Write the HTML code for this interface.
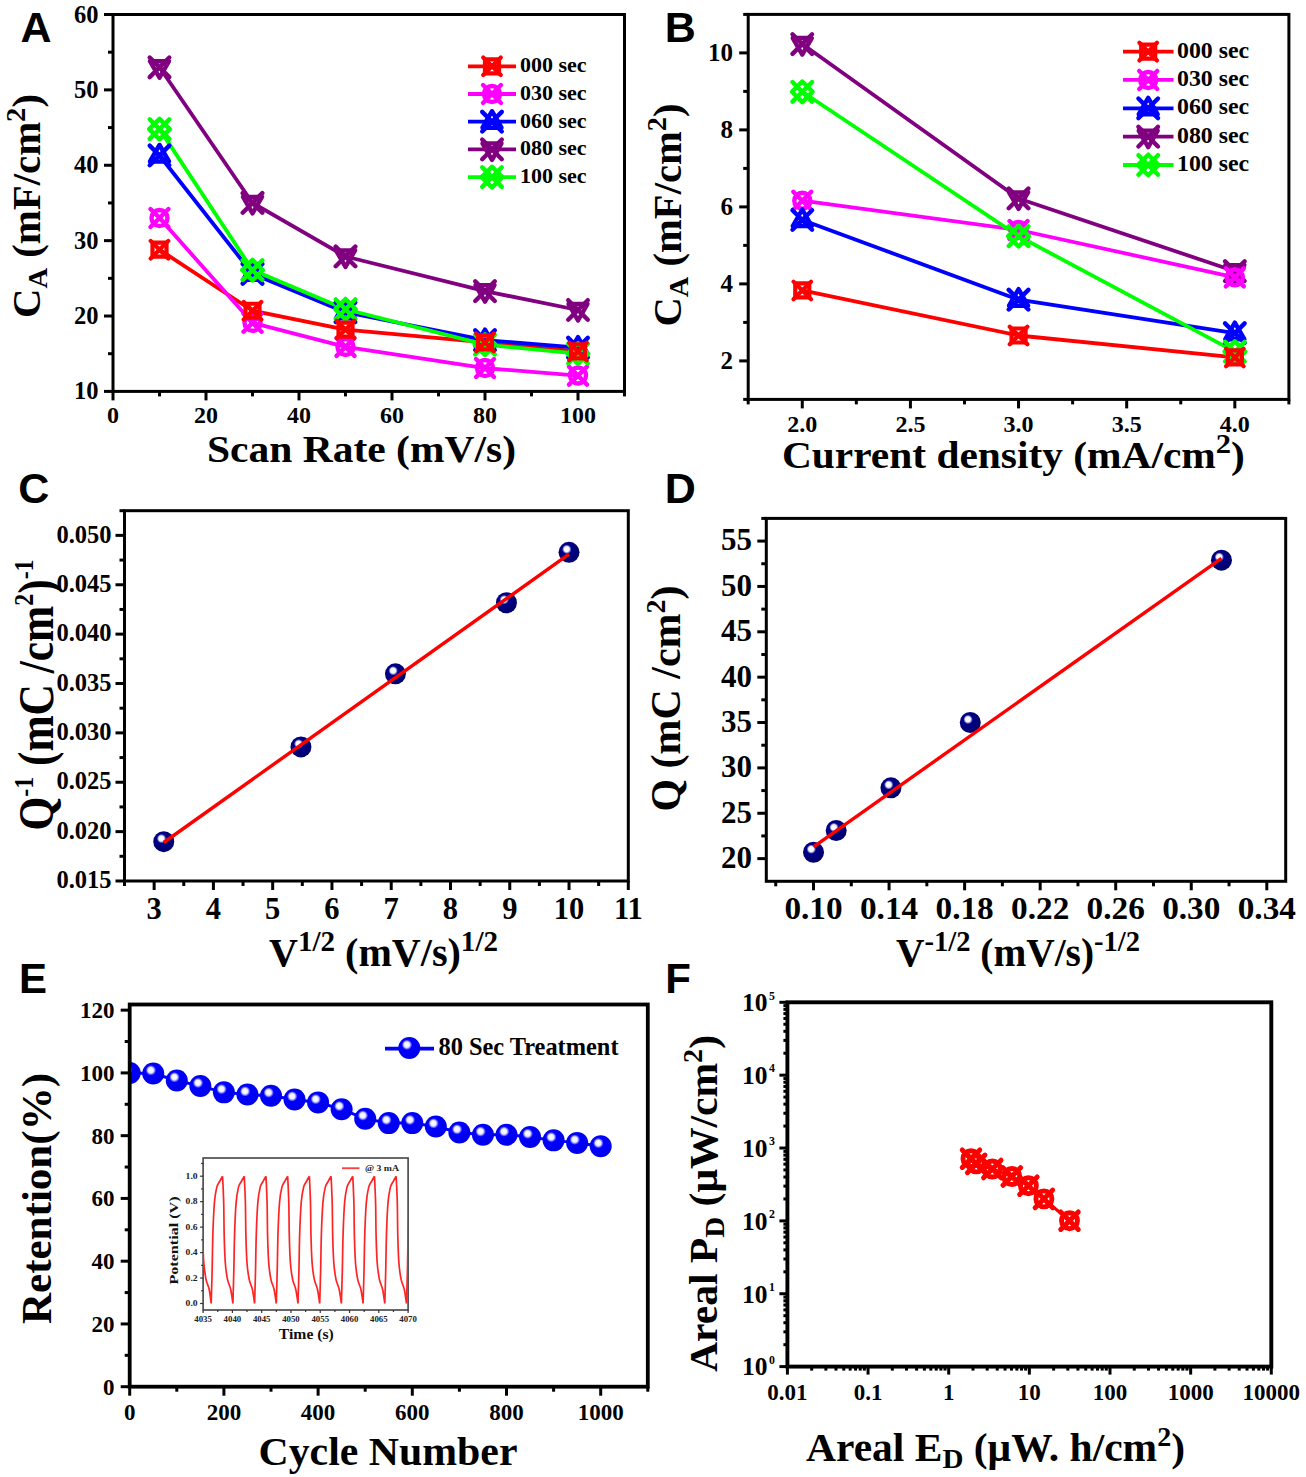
<!DOCTYPE html>
<html><head><meta charset="utf-8"><style>html,body{margin:0;padding:0;background:#fff;width:1306px;height:1477px;overflow:hidden}</style></head>
<body>
<svg width="1306" height="1477" viewBox="0 0 1306 1477" style="display:block">
<defs>
<radialGradient id="gN" cx="0.42" cy="0.38" r="0.62" fx="0.38" fy="0.34">
<stop offset="0" stop-color="#ffffff"/><stop offset="0.2" stop-color="#f4f4ff"/><stop offset="0.36" stop-color="#000088"/><stop offset="1" stop-color="#00006a"/></radialGradient>
<radialGradient id="gB" cx="0.42" cy="0.38" r="0.62" fx="0.38" fy="0.34">
<stop offset="0" stop-color="#ffffff"/><stop offset="0.2" stop-color="#ececff"/><stop offset="0.38" stop-color="#0000ff"/><stop offset="1" stop-color="#0000e8"/></radialGradient>
<clipPath id="clipE"><rect x="129.7" y="1004" width="518" height="383"/></clipPath>
</defs>
<rect width="1306" height="1477" fill="#fff"/>
<text transform="translate(36,42.2)" text-anchor="middle" style="font-family:'Liberation Sans',sans-serif;font-weight:bold;font-size:43px" fill="#000">A</text>
<line x1="113" y1="391.4" x2="104" y2="391.4" stroke="#000" stroke-width="3" stroke-linecap="butt"/>
<line x1="113" y1="316.02" x2="104" y2="316.02" stroke="#000" stroke-width="3" stroke-linecap="butt"/>
<line x1="113" y1="240.64" x2="104" y2="240.64" stroke="#000" stroke-width="3" stroke-linecap="butt"/>
<line x1="113" y1="165.26" x2="104" y2="165.26" stroke="#000" stroke-width="3" stroke-linecap="butt"/>
<line x1="113" y1="89.88" x2="104" y2="89.88" stroke="#000" stroke-width="3" stroke-linecap="butt"/>
<line x1="113" y1="14.5" x2="104" y2="14.5" stroke="#000" stroke-width="3" stroke-linecap="butt"/>
<line x1="113" y1="353.71" x2="108" y2="353.71" stroke="#000" stroke-width="3" stroke-linecap="butt"/>
<line x1="113" y1="278.33" x2="108" y2="278.33" stroke="#000" stroke-width="3" stroke-linecap="butt"/>
<line x1="113" y1="202.95" x2="108" y2="202.95" stroke="#000" stroke-width="3" stroke-linecap="butt"/>
<line x1="113" y1="127.57" x2="108" y2="127.57" stroke="#000" stroke-width="3" stroke-linecap="butt"/>
<line x1="113" y1="52.19" x2="108" y2="52.19" stroke="#000" stroke-width="3" stroke-linecap="butt"/>
<line x1="113" y1="391.4" x2="113" y2="400.4" stroke="#000" stroke-width="3" stroke-linecap="butt"/>
<line x1="206" y1="391.4" x2="206" y2="400.4" stroke="#000" stroke-width="3" stroke-linecap="butt"/>
<line x1="299" y1="391.4" x2="299" y2="400.4" stroke="#000" stroke-width="3" stroke-linecap="butt"/>
<line x1="392" y1="391.4" x2="392" y2="400.4" stroke="#000" stroke-width="3" stroke-linecap="butt"/>
<line x1="485" y1="391.4" x2="485" y2="400.4" stroke="#000" stroke-width="3" stroke-linecap="butt"/>
<line x1="578" y1="391.4" x2="578" y2="400.4" stroke="#000" stroke-width="3" stroke-linecap="butt"/>
<line x1="159.5" y1="391.4" x2="159.5" y2="396.4" stroke="#000" stroke-width="3" stroke-linecap="butt"/>
<line x1="252.5" y1="391.4" x2="252.5" y2="396.4" stroke="#000" stroke-width="3" stroke-linecap="butt"/>
<line x1="345.5" y1="391.4" x2="345.5" y2="396.4" stroke="#000" stroke-width="3" stroke-linecap="butt"/>
<line x1="438.5" y1="391.4" x2="438.5" y2="396.4" stroke="#000" stroke-width="3" stroke-linecap="butt"/>
<line x1="531.5" y1="391.4" x2="531.5" y2="396.4" stroke="#000" stroke-width="3" stroke-linecap="butt"/>
<line x1="624.5" y1="391.4" x2="624.5" y2="396.4" stroke="#000" stroke-width="3" stroke-linecap="butt"/>
<text transform="translate(98.5,399.4)" text-anchor="end" style="font-family:'Liberation Serif',serif;font-weight:bold;font-size:24.5px" fill="#000">10</text>
<text transform="translate(98.5,324.02)" text-anchor="end" style="font-family:'Liberation Serif',serif;font-weight:bold;font-size:24.5px" fill="#000">20</text>
<text transform="translate(98.5,248.64)" text-anchor="end" style="font-family:'Liberation Serif',serif;font-weight:bold;font-size:24.5px" fill="#000">30</text>
<text transform="translate(98.5,173.26)" text-anchor="end" style="font-family:'Liberation Serif',serif;font-weight:bold;font-size:24.5px" fill="#000">40</text>
<text transform="translate(98.5,97.88)" text-anchor="end" style="font-family:'Liberation Serif',serif;font-weight:bold;font-size:24.5px" fill="#000">50</text>
<text transform="translate(98.5,22.5)" text-anchor="end" style="font-family:'Liberation Serif',serif;font-weight:bold;font-size:24.5px" fill="#000">60</text>
<text transform="translate(113,423)" text-anchor="middle" style="font-family:'Liberation Serif',serif;font-weight:bold;font-size:24px" fill="#000">0</text>
<text transform="translate(206,423)" text-anchor="middle" style="font-family:'Liberation Serif',serif;font-weight:bold;font-size:24px" fill="#000">20</text>
<text transform="translate(299,423)" text-anchor="middle" style="font-family:'Liberation Serif',serif;font-weight:bold;font-size:24px" fill="#000">40</text>
<text transform="translate(392,423)" text-anchor="middle" style="font-family:'Liberation Serif',serif;font-weight:bold;font-size:24px" fill="#000">60</text>
<text transform="translate(485,423)" text-anchor="middle" style="font-family:'Liberation Serif',serif;font-weight:bold;font-size:24px" fill="#000">80</text>
<text transform="translate(578,423)" text-anchor="middle" style="font-family:'Liberation Serif',serif;font-weight:bold;font-size:24px" fill="#000">100</text>
<polyline points="159.5,249.69 252.5,310.74 345.5,329.59 485,342.4 578,351.45" fill="none" stroke="#ff0000" stroke-width="3.8" stroke-linejoin="round" stroke-linecap="round"/>
<polyline points="159.5,218.03 252.5,322.8 345.5,346.93 485,368.03 578,375.57" fill="none" stroke="#ff00ff" stroke-width="3.8" stroke-linejoin="round" stroke-linecap="round"/>
<polyline points="159.5,155.46 252.5,273.81 345.5,312.25 485,340.14 578,347.68" fill="none" stroke="#0000ff" stroke-width="3.8" stroke-linejoin="round" stroke-linecap="round"/>
<polyline points="159.5,67.27 252.5,202.95 345.5,256.47 485,291.14 578,309.99" fill="none" stroke="#800080" stroke-width="3.8" stroke-linejoin="round" stroke-linecap="round"/>
<polyline points="159.5,129.08 252.5,270.04 345.5,309.24 485,344.66 578,353.71" fill="none" stroke="#00ff00" stroke-width="3.8" stroke-linejoin="round" stroke-linecap="round"/>
<g stroke="#800080" stroke-width="4.4" fill="none" stroke-linejoin="round" stroke-linecap="round">
<polygon points="159.5,77.77 169,61.27 150,61.27"/>
<path d="M149.7 57.47L169.3 77.07M169.3 57.47L149.7 77.07"/>
</g>
<g stroke="#800080" stroke-width="4.4" fill="none" stroke-linejoin="round" stroke-linecap="round">
<polygon points="252.5,213.45 262,196.95 243,196.95"/>
<path d="M242.7 193.15L262.3 212.75M262.3 193.15L242.7 212.75"/>
</g>
<g stroke="#800080" stroke-width="4.4" fill="none" stroke-linejoin="round" stroke-linecap="round">
<polygon points="345.5,266.97 355,250.47 336,250.47"/>
<path d="M335.7 246.67L355.3 266.27M355.3 246.67L335.7 266.27"/>
</g>
<g stroke="#800080" stroke-width="4.4" fill="none" stroke-linejoin="round" stroke-linecap="round">
<polygon points="485,301.64 494.5,285.14 475.5,285.14"/>
<path d="M475.2 281.34L494.8 300.94M494.8 281.34L475.2 300.94"/>
</g>
<g stroke="#800080" stroke-width="4.4" fill="none" stroke-linejoin="round" stroke-linecap="round">
<polygon points="578,320.49 587.5,303.99 568.5,303.99"/>
<path d="M568.2 300.19L587.8 319.79M587.8 300.19L568.2 319.79"/>
</g>
<g stroke="#ff00ff" stroke-width="4.4" fill="none" stroke-linejoin="round" stroke-linecap="round">
<circle cx="159.5" cy="218.03" r="8"/>
<path d="M150.5 209.03L168.5 227.03M168.5 209.03L150.5 227.03"/>
</g>
<g stroke="#ff00ff" stroke-width="4.4" fill="none" stroke-linejoin="round" stroke-linecap="round">
<circle cx="252.5" cy="322.8" r="8"/>
<path d="M243.5 313.8L261.5 331.8M261.5 313.8L243.5 331.8"/>
</g>
<g stroke="#ff00ff" stroke-width="4.4" fill="none" stroke-linejoin="round" stroke-linecap="round">
<circle cx="345.5" cy="346.93" r="8"/>
<path d="M336.5 337.93L354.5 355.93M354.5 337.93L336.5 355.93"/>
</g>
<g stroke="#ff00ff" stroke-width="4.4" fill="none" stroke-linejoin="round" stroke-linecap="round">
<circle cx="485" cy="368.03" r="8"/>
<path d="M476 359.03L494 377.03M494 359.03L476 377.03"/>
</g>
<g stroke="#ff00ff" stroke-width="4.4" fill="none" stroke-linejoin="round" stroke-linecap="round">
<circle cx="578" cy="375.57" r="8"/>
<path d="M569 366.57L587 384.57M587 366.57L569 384.57"/>
</g>
<g stroke="#0000ff" stroke-width="4.4" fill="none" stroke-linejoin="round" stroke-linecap="round">
<polygon points="159.5,144.96 169,161.46 150,161.46"/>
<path d="M149.7 145.66L169.3 165.26M169.3 145.66L149.7 165.26"/>
</g>
<g stroke="#0000ff" stroke-width="4.4" fill="none" stroke-linejoin="round" stroke-linecap="round">
<polygon points="252.5,263.31 262,279.81 243,279.81"/>
<path d="M242.7 264.01L262.3 283.61M262.3 264.01L242.7 283.61"/>
</g>
<g stroke="#0000ff" stroke-width="4.4" fill="none" stroke-linejoin="round" stroke-linecap="round">
<polygon points="345.5,301.75 355,318.25 336,318.25"/>
<path d="M335.7 302.45L355.3 322.05M355.3 302.45L335.7 322.05"/>
</g>
<g stroke="#0000ff" stroke-width="4.4" fill="none" stroke-linejoin="round" stroke-linecap="round">
<polygon points="485,329.64 494.5,346.14 475.5,346.14"/>
<path d="M475.2 330.34L494.8 349.94M494.8 330.34L475.2 349.94"/>
</g>
<g stroke="#0000ff" stroke-width="4.4" fill="none" stroke-linejoin="round" stroke-linecap="round">
<polygon points="578,337.18 587.5,353.68 568.5,353.68"/>
<path d="M568.2 337.88L587.8 357.48M587.8 337.88L568.2 357.48"/>
</g>
<g stroke="#00ff00" stroke-width="4.4" fill="none" stroke-linejoin="round" stroke-linecap="round">
<path d="M159.5 118.78L169.8 129.08L159.5 139.38L149.2 129.08Z"/>
<path d="M149.7 119.28L169.3 138.88M169.3 119.28L149.7 138.88"/>
</g>
<g stroke="#00ff00" stroke-width="4.4" fill="none" stroke-linejoin="round" stroke-linecap="round">
<path d="M252.5 259.74L262.8 270.04L252.5 280.34L242.2 270.04Z"/>
<path d="M242.7 260.24L262.3 279.84M262.3 260.24L242.7 279.84"/>
</g>
<g stroke="#00ff00" stroke-width="4.4" fill="none" stroke-linejoin="round" stroke-linecap="round">
<path d="M345.5 298.94L355.8 309.24L345.5 319.54L335.2 309.24Z"/>
<path d="M335.7 299.44L355.3 319.04M355.3 299.44L335.7 319.04"/>
</g>
<g stroke="#00ff00" stroke-width="4.4" fill="none" stroke-linejoin="round" stroke-linecap="round">
<path d="M485 334.36L495.3 344.66L485 354.96L474.7 344.66Z"/>
<path d="M475.2 334.86L494.8 354.46M494.8 334.86L475.2 354.46"/>
</g>
<g stroke="#00ff00" stroke-width="4.4" fill="none" stroke-linejoin="round" stroke-linecap="round">
<path d="M578 343.41L588.3 353.71L578 364.01L567.7 353.71Z"/>
<path d="M568.2 343.91L587.8 363.51M587.8 343.91L568.2 363.51"/>
</g>
<g stroke="#ff0000" stroke-width="4.2" fill="none" stroke-linejoin="round" stroke-linecap="round">
<rect x="152.5" y="242.69" width="14" height="14"/>
<path d="M150.7 240.89L168.3 258.49M168.3 240.89L150.7 258.49"/>
</g>
<g stroke="#ff0000" stroke-width="4.2" fill="none" stroke-linejoin="round" stroke-linecap="round">
<rect x="245.5" y="303.74" width="14" height="14"/>
<path d="M243.7 301.94L261.3 319.54M261.3 301.94L243.7 319.54"/>
</g>
<g stroke="#ff0000" stroke-width="4.2" fill="none" stroke-linejoin="round" stroke-linecap="round">
<rect x="338.5" y="322.59" width="14" height="14"/>
<path d="M336.7 320.79L354.3 338.39M354.3 320.79L336.7 338.39"/>
</g>
<g stroke="#ff0000" stroke-width="4.2" fill="none" stroke-linejoin="round" stroke-linecap="round">
<rect x="478" y="335.4" width="14" height="14"/>
<path d="M476.2 333.6L493.8 351.2M493.8 333.6L476.2 351.2"/>
</g>
<g stroke="#ff0000" stroke-width="4.2" fill="none" stroke-linejoin="round" stroke-linecap="round">
<rect x="571" y="344.45" width="14" height="14"/>
<path d="M569.2 342.65L586.8 360.25M586.8 342.65L569.2 360.25"/>
</g>
<rect x="113" y="14.5" width="511.5" height="376.9" fill="none" stroke="#000" stroke-width="3"/>
<line x1="468" y1="66.3" x2="516" y2="66.3" stroke="#ff0000" stroke-width="3.8" stroke-linecap="butt"/>
<g stroke="#ff0000" stroke-width="4.2" fill="none" stroke-linejoin="round" stroke-linecap="round">
<rect x="485" y="59.3" width="14" height="14"/>
<path d="M483.2 57.5L500.8 75.1M500.8 57.5L483.2 75.1"/>
</g>
<text transform="translate(520,72.3)" text-anchor="start" style="font-family:'Liberation Serif',serif;font-weight:bold;font-size:22px" fill="#000">000 sec</text>
<line x1="468" y1="94" x2="516" y2="94" stroke="#ff00ff" stroke-width="3.8" stroke-linecap="butt"/>
<g stroke="#ff00ff" stroke-width="4.4" fill="none" stroke-linejoin="round" stroke-linecap="round">
<circle cx="492" cy="94" r="8"/>
<path d="M483 85L501 103M501 85L483 103"/>
</g>
<text transform="translate(520,100)" text-anchor="start" style="font-family:'Liberation Serif',serif;font-weight:bold;font-size:22px" fill="#000">030 sec</text>
<line x1="468" y1="121.7" x2="516" y2="121.7" stroke="#0000ff" stroke-width="3.8" stroke-linecap="butt"/>
<g stroke="#0000ff" stroke-width="4.4" fill="none" stroke-linejoin="round" stroke-linecap="round">
<polygon points="492,111.2 501.5,127.7 482.5,127.7"/>
<path d="M482.2 111.9L501.8 131.5M501.8 111.9L482.2 131.5"/>
</g>
<text transform="translate(520,127.7)" text-anchor="start" style="font-family:'Liberation Serif',serif;font-weight:bold;font-size:22px" fill="#000">060 sec</text>
<line x1="468" y1="149.4" x2="516" y2="149.4" stroke="#800080" stroke-width="3.8" stroke-linecap="butt"/>
<g stroke="#800080" stroke-width="4.4" fill="none" stroke-linejoin="round" stroke-linecap="round">
<polygon points="492,159.9 501.5,143.4 482.5,143.4"/>
<path d="M482.2 139.6L501.8 159.2M501.8 139.6L482.2 159.2"/>
</g>
<text transform="translate(520,155.4)" text-anchor="start" style="font-family:'Liberation Serif',serif;font-weight:bold;font-size:22px" fill="#000">080 sec</text>
<line x1="468" y1="177.1" x2="516" y2="177.1" stroke="#00ff00" stroke-width="3.8" stroke-linecap="butt"/>
<g stroke="#00ff00" stroke-width="4.4" fill="none" stroke-linejoin="round" stroke-linecap="round">
<path d="M492 166.8L502.3 177.1L492 187.4L481.7 177.1Z"/>
<path d="M482.2 167.3L501.8 186.9M501.8 167.3L482.2 186.9"/>
</g>
<text transform="translate(520,183.1)" text-anchor="start" style="font-family:'Liberation Serif',serif;font-weight:bold;font-size:22px" fill="#000">100 sec</text>
<text transform="translate(361.5,462)" text-anchor="middle" style="font-family:'Liberation Serif',serif;font-weight:bold;font-size:38px" fill="#000" textLength="309" lengthAdjust="spacingAndGlyphs">Scan Rate (mV/s)</text>
<text transform="translate(40,206) rotate(-90)" text-anchor="middle" style="font-family:'Liberation Serif',serif;font-weight:bold;font-size:40px" fill="#000" textLength="224" lengthAdjust="spacingAndGlyphs">C<tspan baseline-shift="-25%" style="font-size:28px">A</tspan> (mF/cm<tspan baseline-shift="52%" style="font-size:28px">2</tspan>)</text>
<text transform="translate(680.3,42.2)" text-anchor="middle" style="font-family:'Liberation Sans',sans-serif;font-weight:bold;font-size:43px" fill="#000">B</text>
<line x1="748.2" y1="360.9" x2="739.2" y2="360.9" stroke="#000" stroke-width="3" stroke-linecap="butt"/>
<line x1="748.2" y1="283.9" x2="739.2" y2="283.9" stroke="#000" stroke-width="3" stroke-linecap="butt"/>
<line x1="748.2" y1="206.9" x2="739.2" y2="206.9" stroke="#000" stroke-width="3" stroke-linecap="butt"/>
<line x1="748.2" y1="129.9" x2="739.2" y2="129.9" stroke="#000" stroke-width="3" stroke-linecap="butt"/>
<line x1="748.2" y1="52.9" x2="739.2" y2="52.9" stroke="#000" stroke-width="3" stroke-linecap="butt"/>
<line x1="748.2" y1="399.4" x2="743.2" y2="399.4" stroke="#000" stroke-width="3" stroke-linecap="butt"/>
<line x1="748.2" y1="322.4" x2="743.2" y2="322.4" stroke="#000" stroke-width="3" stroke-linecap="butt"/>
<line x1="748.2" y1="245.4" x2="743.2" y2="245.4" stroke="#000" stroke-width="3" stroke-linecap="butt"/>
<line x1="748.2" y1="168.4" x2="743.2" y2="168.4" stroke="#000" stroke-width="3" stroke-linecap="butt"/>
<line x1="748.2" y1="91.4" x2="743.2" y2="91.4" stroke="#000" stroke-width="3" stroke-linecap="butt"/>
<line x1="748.2" y1="14.4" x2="743.2" y2="14.4" stroke="#000" stroke-width="3" stroke-linecap="butt"/>
<line x1="802.27" y1="399.4" x2="802.27" y2="408.4" stroke="#000" stroke-width="3" stroke-linecap="butt"/>
<line x1="910.41" y1="399.4" x2="910.41" y2="408.4" stroke="#000" stroke-width="3" stroke-linecap="butt"/>
<line x1="1018.55" y1="399.4" x2="1018.55" y2="408.4" stroke="#000" stroke-width="3" stroke-linecap="butt"/>
<line x1="1126.69" y1="399.4" x2="1126.69" y2="408.4" stroke="#000" stroke-width="3" stroke-linecap="butt"/>
<line x1="1234.83" y1="399.4" x2="1234.83" y2="408.4" stroke="#000" stroke-width="3" stroke-linecap="butt"/>
<line x1="748.2" y1="399.4" x2="748.2" y2="404.4" stroke="#000" stroke-width="3" stroke-linecap="butt"/>
<line x1="856.34" y1="399.4" x2="856.34" y2="404.4" stroke="#000" stroke-width="3" stroke-linecap="butt"/>
<line x1="964.48" y1="399.4" x2="964.48" y2="404.4" stroke="#000" stroke-width="3" stroke-linecap="butt"/>
<line x1="1072.62" y1="399.4" x2="1072.62" y2="404.4" stroke="#000" stroke-width="3" stroke-linecap="butt"/>
<line x1="1180.76" y1="399.4" x2="1180.76" y2="404.4" stroke="#000" stroke-width="3" stroke-linecap="butt"/>
<line x1="1288.9" y1="399.4" x2="1288.9" y2="404.4" stroke="#000" stroke-width="3" stroke-linecap="butt"/>
<text transform="translate(733,368.7)" text-anchor="end" style="font-family:'Liberation Serif',serif;font-weight:bold;font-size:25px" fill="#000">2</text>
<text transform="translate(733,291.7)" text-anchor="end" style="font-family:'Liberation Serif',serif;font-weight:bold;font-size:25px" fill="#000">4</text>
<text transform="translate(733,214.7)" text-anchor="end" style="font-family:'Liberation Serif',serif;font-weight:bold;font-size:25px" fill="#000">6</text>
<text transform="translate(733,137.7)" text-anchor="end" style="font-family:'Liberation Serif',serif;font-weight:bold;font-size:25px" fill="#000">8</text>
<text transform="translate(733,60.7)" text-anchor="end" style="font-family:'Liberation Serif',serif;font-weight:bold;font-size:25px" fill="#000">10</text>
<text transform="translate(802.27,432)" text-anchor="middle" style="font-family:'Liberation Serif',serif;font-weight:bold;font-size:24px" fill="#000">2.0</text>
<text transform="translate(910.41,432)" text-anchor="middle" style="font-family:'Liberation Serif',serif;font-weight:bold;font-size:24px" fill="#000">2.5</text>
<text transform="translate(1018.55,432)" text-anchor="middle" style="font-family:'Liberation Serif',serif;font-weight:bold;font-size:24px" fill="#000">3.0</text>
<text transform="translate(1126.69,432)" text-anchor="middle" style="font-family:'Liberation Serif',serif;font-weight:bold;font-size:24px" fill="#000">3.5</text>
<text transform="translate(1234.83,432)" text-anchor="middle" style="font-family:'Liberation Serif',serif;font-weight:bold;font-size:24px" fill="#000">4.0</text>
<polyline points="802.27,290.44 1018.55,335.49 1234.83,357.44" fill="none" stroke="#ff0000" stroke-width="3.8" stroke-linejoin="round" stroke-linecap="round"/>
<polyline points="802.27,200.74 1018.55,230 1234.83,277.35" fill="none" stroke="#ff00ff" stroke-width="3.8" stroke-linejoin="round" stroke-linecap="round"/>
<polyline points="802.27,219.99 1018.55,299.68 1234.83,333.18" fill="none" stroke="#0000ff" stroke-width="3.8" stroke-linejoin="round" stroke-linecap="round"/>
<polyline points="802.27,44.04 1018.55,198.43 1234.83,271.19" fill="none" stroke="#800080" stroke-width="3.8" stroke-linejoin="round" stroke-linecap="round"/>
<polyline points="802.27,91.78 1018.55,236.16 1234.83,351.66" fill="none" stroke="#00ff00" stroke-width="3.8" stroke-linejoin="round" stroke-linecap="round"/>
<g stroke="#800080" stroke-width="4.4" fill="none" stroke-linejoin="round" stroke-linecap="round">
<polygon points="802.27,54.54 811.77,38.04 792.77,38.04"/>
<path d="M792.47 34.24L812.07 53.84M812.07 34.24L792.47 53.84"/>
</g>
<g stroke="#800080" stroke-width="4.4" fill="none" stroke-linejoin="round" stroke-linecap="round">
<polygon points="1018.55,208.93 1028.05,192.43 1009.05,192.43"/>
<path d="M1008.75 188.63L1028.35 208.23M1028.35 188.63L1008.75 208.23"/>
</g>
<g stroke="#800080" stroke-width="4.4" fill="none" stroke-linejoin="round" stroke-linecap="round">
<polygon points="1234.83,281.69 1244.33,265.19 1225.33,265.19"/>
<path d="M1225.03 261.39L1244.63 280.99M1244.63 261.39L1225.03 280.99"/>
</g>
<g stroke="#ff00ff" stroke-width="4.4" fill="none" stroke-linejoin="round" stroke-linecap="round">
<circle cx="802.27" cy="200.74" r="8"/>
<path d="M793.27 191.74L811.27 209.74M811.27 191.74L793.27 209.74"/>
</g>
<g stroke="#ff00ff" stroke-width="4.4" fill="none" stroke-linejoin="round" stroke-linecap="round">
<circle cx="1018.55" cy="230" r="8"/>
<path d="M1009.55 221L1027.55 239M1027.55 221L1009.55 239"/>
</g>
<g stroke="#ff00ff" stroke-width="4.4" fill="none" stroke-linejoin="round" stroke-linecap="round">
<circle cx="1234.83" cy="277.35" r="8"/>
<path d="M1225.83 268.35L1243.83 286.35M1243.83 268.35L1225.83 286.35"/>
</g>
<g stroke="#0000ff" stroke-width="4.4" fill="none" stroke-linejoin="round" stroke-linecap="round">
<polygon points="802.27,209.49 811.77,225.99 792.77,225.99"/>
<path d="M792.47 210.19L812.07 229.79M812.07 210.19L792.47 229.79"/>
</g>
<g stroke="#0000ff" stroke-width="4.4" fill="none" stroke-linejoin="round" stroke-linecap="round">
<polygon points="1018.55,289.18 1028.05,305.68 1009.05,305.68"/>
<path d="M1008.75 289.88L1028.35 309.48M1028.35 289.88L1008.75 309.48"/>
</g>
<g stroke="#0000ff" stroke-width="4.4" fill="none" stroke-linejoin="round" stroke-linecap="round">
<polygon points="1234.83,322.68 1244.33,339.18 1225.33,339.18"/>
<path d="M1225.03 323.38L1244.63 342.98M1244.63 323.38L1225.03 342.98"/>
</g>
<g stroke="#00ff00" stroke-width="4.4" fill="none" stroke-linejoin="round" stroke-linecap="round">
<path d="M802.27 81.48L812.57 91.78L802.27 102.08L791.97 91.78Z"/>
<path d="M792.47 81.98L812.07 101.58M812.07 81.98L792.47 101.58"/>
</g>
<g stroke="#00ff00" stroke-width="4.4" fill="none" stroke-linejoin="round" stroke-linecap="round">
<path d="M1018.55 225.86L1028.85 236.16L1018.55 246.46L1008.25 236.16Z"/>
<path d="M1008.75 226.36L1028.35 245.96M1028.35 226.36L1008.75 245.96"/>
</g>
<g stroke="#00ff00" stroke-width="4.4" fill="none" stroke-linejoin="round" stroke-linecap="round">
<path d="M1234.83 341.36L1245.13 351.66L1234.83 361.96L1224.53 351.66Z"/>
<path d="M1225.03 341.86L1244.63 361.46M1244.63 341.86L1225.03 361.46"/>
</g>
<g stroke="#ff0000" stroke-width="4.2" fill="none" stroke-linejoin="round" stroke-linecap="round">
<rect x="795.27" y="283.44" width="14" height="14"/>
<path d="M793.47 281.64L811.07 299.24M811.07 281.64L793.47 299.24"/>
</g>
<g stroke="#ff0000" stroke-width="4.2" fill="none" stroke-linejoin="round" stroke-linecap="round">
<rect x="1011.55" y="328.49" width="14" height="14"/>
<path d="M1009.75 326.69L1027.35 344.29M1027.35 326.69L1009.75 344.29"/>
</g>
<g stroke="#ff0000" stroke-width="4.2" fill="none" stroke-linejoin="round" stroke-linecap="round">
<rect x="1227.83" y="350.44" width="14" height="14"/>
<path d="M1226.03 348.63L1243.63 366.24M1243.63 348.63L1226.03 366.24"/>
</g>
<rect x="748.2" y="14.4" width="540.7" height="385" fill="none" stroke="#000" stroke-width="3"/>
<line x1="1123" y1="51.6" x2="1173.5" y2="51.6" stroke="#ff0000" stroke-width="3.8" stroke-linecap="butt"/>
<g stroke="#ff0000" stroke-width="4.2" fill="none" stroke-linejoin="round" stroke-linecap="round">
<rect x="1141.2" y="44.6" width="14" height="14"/>
<path d="M1139.4 42.8L1157 60.4M1157 42.8L1139.4 60.4"/>
</g>
<text transform="translate(1177,57.6) scale(1.06,1)" text-anchor="start" style="font-family:'Liberation Serif',serif;font-weight:bold;font-size:22.5px" fill="#000">000 sec</text>
<line x1="1123" y1="79.95" x2="1173.5" y2="79.95" stroke="#ff00ff" stroke-width="3.8" stroke-linecap="butt"/>
<g stroke="#ff00ff" stroke-width="4.4" fill="none" stroke-linejoin="round" stroke-linecap="round">
<circle cx="1148.2" cy="79.95" r="8"/>
<path d="M1139.2 70.95L1157.2 88.95M1157.2 70.95L1139.2 88.95"/>
</g>
<text transform="translate(1177,85.95) scale(1.06,1)" text-anchor="start" style="font-family:'Liberation Serif',serif;font-weight:bold;font-size:22.5px" fill="#000">030 sec</text>
<line x1="1123" y1="108.3" x2="1173.5" y2="108.3" stroke="#0000ff" stroke-width="3.8" stroke-linecap="butt"/>
<g stroke="#0000ff" stroke-width="4.4" fill="none" stroke-linejoin="round" stroke-linecap="round">
<polygon points="1148.2,97.8 1157.7,114.3 1138.7,114.3"/>
<path d="M1138.4 98.5L1158 118.1M1158 98.5L1138.4 118.1"/>
</g>
<text transform="translate(1177,114.3) scale(1.06,1)" text-anchor="start" style="font-family:'Liberation Serif',serif;font-weight:bold;font-size:22.5px" fill="#000">060 sec</text>
<line x1="1123" y1="136.65" x2="1173.5" y2="136.65" stroke="#800080" stroke-width="3.8" stroke-linecap="butt"/>
<g stroke="#800080" stroke-width="4.4" fill="none" stroke-linejoin="round" stroke-linecap="round">
<polygon points="1148.2,147.15 1157.7,130.65 1138.7,130.65"/>
<path d="M1138.4 126.85L1158 146.45M1158 126.85L1138.4 146.45"/>
</g>
<text transform="translate(1177,142.65) scale(1.06,1)" text-anchor="start" style="font-family:'Liberation Serif',serif;font-weight:bold;font-size:22.5px" fill="#000">080 sec</text>
<line x1="1123" y1="165" x2="1173.5" y2="165" stroke="#00ff00" stroke-width="3.8" stroke-linecap="butt"/>
<g stroke="#00ff00" stroke-width="4.4" fill="none" stroke-linejoin="round" stroke-linecap="round">
<path d="M1148.2 154.7L1158.5 165L1148.2 175.3L1137.9 165Z"/>
<path d="M1138.4 155.2L1158 174.8M1158 155.2L1138.4 174.8"/>
</g>
<text transform="translate(1177,171) scale(1.06,1)" text-anchor="start" style="font-family:'Liberation Serif',serif;font-weight:bold;font-size:22.5px" fill="#000">100 sec</text>
<text transform="translate(1013.4,468)" text-anchor="middle" style="font-family:'Liberation Serif',serif;font-weight:bold;font-size:38px" fill="#000" textLength="463" lengthAdjust="spacingAndGlyphs">Current density (mA/cm<tspan baseline-shift="52%" style="font-size:28px">2</tspan>)</text>
<text transform="translate(681,215) rotate(-90)" text-anchor="middle" style="font-family:'Liberation Serif',serif;font-weight:bold;font-size:40px" fill="#000" textLength="223" lengthAdjust="spacingAndGlyphs">C<tspan baseline-shift="-25%" style="font-size:28px">A</tspan> (mF/cm<tspan baseline-shift="52%" style="font-size:28px">2</tspan>)</text>
<text transform="translate(33.8,502.5)" text-anchor="middle" style="font-family:'Liberation Sans',sans-serif;font-weight:bold;font-size:43px" fill="#000">C</text>
<line x1="124.5" y1="881" x2="115.5" y2="881" stroke="#000" stroke-width="3" stroke-linecap="butt"/>
<line x1="124.5" y1="831.63" x2="115.5" y2="831.63" stroke="#000" stroke-width="3" stroke-linecap="butt"/>
<line x1="124.5" y1="782.25" x2="115.5" y2="782.25" stroke="#000" stroke-width="3" stroke-linecap="butt"/>
<line x1="124.5" y1="732.88" x2="115.5" y2="732.88" stroke="#000" stroke-width="3" stroke-linecap="butt"/>
<line x1="124.5" y1="683.51" x2="115.5" y2="683.51" stroke="#000" stroke-width="3" stroke-linecap="butt"/>
<line x1="124.5" y1="634.13" x2="115.5" y2="634.13" stroke="#000" stroke-width="3" stroke-linecap="butt"/>
<line x1="124.5" y1="584.76" x2="115.5" y2="584.76" stroke="#000" stroke-width="3" stroke-linecap="butt"/>
<line x1="124.5" y1="535.39" x2="115.5" y2="535.39" stroke="#000" stroke-width="3" stroke-linecap="butt"/>
<line x1="124.5" y1="856.31" x2="119.5" y2="856.31" stroke="#000" stroke-width="3" stroke-linecap="butt"/>
<line x1="124.5" y1="806.94" x2="119.5" y2="806.94" stroke="#000" stroke-width="3" stroke-linecap="butt"/>
<line x1="124.5" y1="757.57" x2="119.5" y2="757.57" stroke="#000" stroke-width="3" stroke-linecap="butt"/>
<line x1="124.5" y1="708.19" x2="119.5" y2="708.19" stroke="#000" stroke-width="3" stroke-linecap="butt"/>
<line x1="124.5" y1="658.82" x2="119.5" y2="658.82" stroke="#000" stroke-width="3" stroke-linecap="butt"/>
<line x1="124.5" y1="609.45" x2="119.5" y2="609.45" stroke="#000" stroke-width="3" stroke-linecap="butt"/>
<line x1="124.5" y1="560.07" x2="119.5" y2="560.07" stroke="#000" stroke-width="3" stroke-linecap="butt"/>
<line x1="124.5" y1="510.7" x2="119.5" y2="510.7" stroke="#000" stroke-width="3" stroke-linecap="butt"/>
<line x1="154.14" y1="881" x2="154.14" y2="890" stroke="#000" stroke-width="3" stroke-linecap="butt"/>
<line x1="213.41" y1="881" x2="213.41" y2="890" stroke="#000" stroke-width="3" stroke-linecap="butt"/>
<line x1="272.68" y1="881" x2="272.68" y2="890" stroke="#000" stroke-width="3" stroke-linecap="butt"/>
<line x1="331.95" y1="881" x2="331.95" y2="890" stroke="#000" stroke-width="3" stroke-linecap="butt"/>
<line x1="391.22" y1="881" x2="391.22" y2="890" stroke="#000" stroke-width="3" stroke-linecap="butt"/>
<line x1="450.49" y1="881" x2="450.49" y2="890" stroke="#000" stroke-width="3" stroke-linecap="butt"/>
<line x1="509.76" y1="881" x2="509.76" y2="890" stroke="#000" stroke-width="3" stroke-linecap="butt"/>
<line x1="569.03" y1="881" x2="569.03" y2="890" stroke="#000" stroke-width="3" stroke-linecap="butt"/>
<line x1="628.3" y1="881" x2="628.3" y2="890" stroke="#000" stroke-width="3" stroke-linecap="butt"/>
<line x1="124.5" y1="881" x2="124.5" y2="886" stroke="#000" stroke-width="3" stroke-linecap="butt"/>
<line x1="183.77" y1="881" x2="183.77" y2="886" stroke="#000" stroke-width="3" stroke-linecap="butt"/>
<line x1="243.04" y1="881" x2="243.04" y2="886" stroke="#000" stroke-width="3" stroke-linecap="butt"/>
<line x1="302.31" y1="881" x2="302.31" y2="886" stroke="#000" stroke-width="3" stroke-linecap="butt"/>
<line x1="361.58" y1="881" x2="361.58" y2="886" stroke="#000" stroke-width="3" stroke-linecap="butt"/>
<line x1="420.85" y1="881" x2="420.85" y2="886" stroke="#000" stroke-width="3" stroke-linecap="butt"/>
<line x1="480.12" y1="881" x2="480.12" y2="886" stroke="#000" stroke-width="3" stroke-linecap="butt"/>
<line x1="539.39" y1="881" x2="539.39" y2="886" stroke="#000" stroke-width="3" stroke-linecap="butt"/>
<line x1="598.66" y1="881" x2="598.66" y2="886" stroke="#000" stroke-width="3" stroke-linecap="butt"/>
<text transform="translate(111.5,888.2)" text-anchor="end" style="font-family:'Liberation Serif',serif;font-weight:bold;font-size:24.5px" fill="#000">0.015</text>
<text transform="translate(111.5,838.83)" text-anchor="end" style="font-family:'Liberation Serif',serif;font-weight:bold;font-size:24.5px" fill="#000">0.020</text>
<text transform="translate(111.5,789.45)" text-anchor="end" style="font-family:'Liberation Serif',serif;font-weight:bold;font-size:24.5px" fill="#000">0.025</text>
<text transform="translate(111.5,740.08)" text-anchor="end" style="font-family:'Liberation Serif',serif;font-weight:bold;font-size:24.5px" fill="#000">0.030</text>
<text transform="translate(111.5,690.71)" text-anchor="end" style="font-family:'Liberation Serif',serif;font-weight:bold;font-size:24.5px" fill="#000">0.035</text>
<text transform="translate(111.5,641.33)" text-anchor="end" style="font-family:'Liberation Serif',serif;font-weight:bold;font-size:24.5px" fill="#000">0.040</text>
<text transform="translate(111.5,591.96)" text-anchor="end" style="font-family:'Liberation Serif',serif;font-weight:bold;font-size:24.5px" fill="#000">0.045</text>
<text transform="translate(111.5,542.59)" text-anchor="end" style="font-family:'Liberation Serif',serif;font-weight:bold;font-size:24.5px" fill="#000">0.050</text>
<text transform="translate(154.14,919.2)" text-anchor="middle" style="font-family:'Liberation Serif',serif;font-weight:bold;font-size:30.5px" fill="#000">3</text>
<text transform="translate(213.41,919.2)" text-anchor="middle" style="font-family:'Liberation Serif',serif;font-weight:bold;font-size:30.5px" fill="#000">4</text>
<text transform="translate(272.68,919.2)" text-anchor="middle" style="font-family:'Liberation Serif',serif;font-weight:bold;font-size:30.5px" fill="#000">5</text>
<text transform="translate(331.95,919.2)" text-anchor="middle" style="font-family:'Liberation Serif',serif;font-weight:bold;font-size:30.5px" fill="#000">6</text>
<text transform="translate(391.22,919.2)" text-anchor="middle" style="font-family:'Liberation Serif',serif;font-weight:bold;font-size:30.5px" fill="#000">7</text>
<text transform="translate(450.49,919.2)" text-anchor="middle" style="font-family:'Liberation Serif',serif;font-weight:bold;font-size:30.5px" fill="#000">8</text>
<text transform="translate(509.76,919.2)" text-anchor="middle" style="font-family:'Liberation Serif',serif;font-weight:bold;font-size:30.5px" fill="#000">9</text>
<text transform="translate(569.03,919.2)" text-anchor="middle" style="font-family:'Liberation Serif',serif;font-weight:bold;font-size:30.5px" fill="#000">10</text>
<text transform="translate(628.3,919.2)" text-anchor="middle" style="font-family:'Liberation Serif',serif;font-weight:bold;font-size:30.5px" fill="#000">11</text>
<circle cx="163.74" cy="841.69" r="10.5" fill="url(#gN)"/>
<circle cx="300.95" cy="746.89" r="10.5" fill="url(#gN)"/>
<circle cx="395.43" cy="673.82" r="10.5" fill="url(#gN)"/>
<circle cx="506.44" cy="602.72" r="10.5" fill="url(#gN)"/>
<circle cx="569.03" cy="552.36" r="10.5" fill="url(#gN)"/>
<line x1="163.74" y1="842.49" x2="569.03" y2="554.15" stroke="#ff0000" stroke-width="3.4" stroke-linecap="butt"/>
<rect x="124.5" y="510.7" width="503.8" height="370.3" fill="none" stroke="#000" stroke-width="3"/>
<text transform="translate(383.5,966)" text-anchor="middle" style="font-family:'Liberation Serif',serif;font-weight:bold;font-size:40px" fill="#000" textLength="229" lengthAdjust="spacingAndGlyphs">V<tspan baseline-shift="52%" style="font-size:29px">1/2</tspan> (mV/s)<tspan baseline-shift="52%" style="font-size:29px">1/2</tspan></text>
<text transform="translate(53,695) rotate(-90)" text-anchor="middle" style="font-family:'Liberation Serif',serif;font-weight:bold;font-size:51px" fill="#000" textLength="271" lengthAdjust="spacingAndGlyphs">Q<tspan baseline-shift="72%" style="font-size:28px">-1</tspan> (mC /cm<tspan baseline-shift="70%" style="font-size:28px">2</tspan>)<tspan baseline-shift="72%" style="font-size:28px">-1</tspan></text>
<text transform="translate(680.2,502.5)" text-anchor="middle" style="font-family:'Liberation Sans',sans-serif;font-weight:bold;font-size:43px" fill="#000">D</text>
<line x1="766.3" y1="858.62" x2="757.3" y2="858.62" stroke="#000" stroke-width="3" stroke-linecap="butt"/>
<line x1="766.3" y1="813.26" x2="757.3" y2="813.26" stroke="#000" stroke-width="3" stroke-linecap="butt"/>
<line x1="766.3" y1="767.89" x2="757.3" y2="767.89" stroke="#000" stroke-width="3" stroke-linecap="butt"/>
<line x1="766.3" y1="722.53" x2="757.3" y2="722.53" stroke="#000" stroke-width="3" stroke-linecap="butt"/>
<line x1="766.3" y1="677.17" x2="757.3" y2="677.17" stroke="#000" stroke-width="3" stroke-linecap="butt"/>
<line x1="766.3" y1="631.81" x2="757.3" y2="631.81" stroke="#000" stroke-width="3" stroke-linecap="butt"/>
<line x1="766.3" y1="586.44" x2="757.3" y2="586.44" stroke="#000" stroke-width="3" stroke-linecap="butt"/>
<line x1="766.3" y1="541.08" x2="757.3" y2="541.08" stroke="#000" stroke-width="3" stroke-linecap="butt"/>
<line x1="766.3" y1="835.94" x2="761.3" y2="835.94" stroke="#000" stroke-width="3" stroke-linecap="butt"/>
<line x1="766.3" y1="790.57" x2="761.3" y2="790.57" stroke="#000" stroke-width="3" stroke-linecap="butt"/>
<line x1="766.3" y1="745.21" x2="761.3" y2="745.21" stroke="#000" stroke-width="3" stroke-linecap="butt"/>
<line x1="766.3" y1="699.85" x2="761.3" y2="699.85" stroke="#000" stroke-width="3" stroke-linecap="butt"/>
<line x1="766.3" y1="654.49" x2="761.3" y2="654.49" stroke="#000" stroke-width="3" stroke-linecap="butt"/>
<line x1="766.3" y1="609.12" x2="761.3" y2="609.12" stroke="#000" stroke-width="3" stroke-linecap="butt"/>
<line x1="766.3" y1="563.76" x2="761.3" y2="563.76" stroke="#000" stroke-width="3" stroke-linecap="butt"/>
<line x1="766.3" y1="518.4" x2="761.3" y2="518.4" stroke="#000" stroke-width="3" stroke-linecap="butt"/>
<line x1="813.52" y1="881.3" x2="813.52" y2="890.3" stroke="#000" stroke-width="3" stroke-linecap="butt"/>
<line x1="889.07" y1="881.3" x2="889.07" y2="890.3" stroke="#000" stroke-width="3" stroke-linecap="butt"/>
<line x1="964.62" y1="881.3" x2="964.62" y2="890.3" stroke="#000" stroke-width="3" stroke-linecap="butt"/>
<line x1="1040.17" y1="881.3" x2="1040.17" y2="890.3" stroke="#000" stroke-width="3" stroke-linecap="butt"/>
<line x1="1115.71" y1="881.3" x2="1115.71" y2="890.3" stroke="#000" stroke-width="3" stroke-linecap="butt"/>
<line x1="1191.26" y1="881.3" x2="1191.26" y2="890.3" stroke="#000" stroke-width="3" stroke-linecap="butt"/>
<line x1="1266.81" y1="881.3" x2="1266.81" y2="890.3" stroke="#000" stroke-width="3" stroke-linecap="butt"/>
<line x1="775.74" y1="881.3" x2="775.74" y2="886.3" stroke="#000" stroke-width="3" stroke-linecap="butt"/>
<line x1="851.29" y1="881.3" x2="851.29" y2="886.3" stroke="#000" stroke-width="3" stroke-linecap="butt"/>
<line x1="926.84" y1="881.3" x2="926.84" y2="886.3" stroke="#000" stroke-width="3" stroke-linecap="butt"/>
<line x1="1002.39" y1="881.3" x2="1002.39" y2="886.3" stroke="#000" stroke-width="3" stroke-linecap="butt"/>
<line x1="1077.94" y1="881.3" x2="1077.94" y2="886.3" stroke="#000" stroke-width="3" stroke-linecap="butt"/>
<line x1="1153.49" y1="881.3" x2="1153.49" y2="886.3" stroke="#000" stroke-width="3" stroke-linecap="butt"/>
<line x1="1229.04" y1="881.3" x2="1229.04" y2="886.3" stroke="#000" stroke-width="3" stroke-linecap="butt"/>
<text transform="translate(752,868.02)" text-anchor="end" style="font-family:'Liberation Serif',serif;font-weight:bold;font-size:31px" fill="#000">20</text>
<text transform="translate(752,822.66)" text-anchor="end" style="font-family:'Liberation Serif',serif;font-weight:bold;font-size:31px" fill="#000">25</text>
<text transform="translate(752,777.29)" text-anchor="end" style="font-family:'Liberation Serif',serif;font-weight:bold;font-size:31px" fill="#000">30</text>
<text transform="translate(752,731.93)" text-anchor="end" style="font-family:'Liberation Serif',serif;font-weight:bold;font-size:31px" fill="#000">35</text>
<text transform="translate(752,686.57)" text-anchor="end" style="font-family:'Liberation Serif',serif;font-weight:bold;font-size:31px" fill="#000">40</text>
<text transform="translate(752,641.21)" text-anchor="end" style="font-family:'Liberation Serif',serif;font-weight:bold;font-size:31px" fill="#000">45</text>
<text transform="translate(752,595.84)" text-anchor="end" style="font-family:'Liberation Serif',serif;font-weight:bold;font-size:31px" fill="#000">50</text>
<text transform="translate(752,550.48)" text-anchor="end" style="font-family:'Liberation Serif',serif;font-weight:bold;font-size:31px" fill="#000">55</text>
<text transform="translate(813.52,919) scale(1.04,1)" text-anchor="middle" style="font-family:'Liberation Serif',serif;font-weight:bold;font-size:32px" fill="#000">0.10</text>
<text transform="translate(889.07,919) scale(1.04,1)" text-anchor="middle" style="font-family:'Liberation Serif',serif;font-weight:bold;font-size:32px" fill="#000">0.14</text>
<text transform="translate(964.62,919) scale(1.04,1)" text-anchor="middle" style="font-family:'Liberation Serif',serif;font-weight:bold;font-size:32px" fill="#000">0.18</text>
<text transform="translate(1040.17,919) scale(1.04,1)" text-anchor="middle" style="font-family:'Liberation Serif',serif;font-weight:bold;font-size:32px" fill="#000">0.22</text>
<text transform="translate(1115.71,919) scale(1.04,1)" text-anchor="middle" style="font-family:'Liberation Serif',serif;font-weight:bold;font-size:32px" fill="#000">0.26</text>
<text transform="translate(1191.26,919) scale(1.04,1)" text-anchor="middle" style="font-family:'Liberation Serif',serif;font-weight:bold;font-size:32px" fill="#000">0.30</text>
<text transform="translate(1266.81,919) scale(1.04,1)" text-anchor="middle" style="font-family:'Liberation Serif',serif;font-weight:bold;font-size:32px" fill="#000">0.34</text>
<circle cx="813.52" cy="852.27" r="10.5" fill="url(#gN)"/>
<circle cx="836.18" cy="830.49" r="10.5" fill="url(#gN)"/>
<circle cx="890.96" cy="787.85" r="10.5" fill="url(#gN)"/>
<circle cx="970.28" cy="722.53" r="10.5" fill="url(#gN)"/>
<circle cx="1221.48" cy="560.13" r="10.5" fill="url(#gN)"/>
<line x1="813.52" y1="846.82" x2="1221.48" y2="558.32" stroke="#ff0000" stroke-width="3.4" stroke-linecap="butt"/>
<rect x="766.3" y="518.4" width="519.4" height="362.9" fill="none" stroke="#000" stroke-width="3"/>
<text transform="translate(1018,966)" text-anchor="middle" style="font-family:'Liberation Serif',serif;font-weight:bold;font-size:40px" fill="#000" textLength="244" lengthAdjust="spacingAndGlyphs">V<tspan baseline-shift="52%" style="font-size:29px">-1/2</tspan> (mV/s)<tspan baseline-shift="52%" style="font-size:29px">-1/2</tspan></text>
<text transform="translate(679.5,698.5) rotate(-90)" text-anchor="middle" style="font-family:'Liberation Serif',serif;font-weight:bold;font-size:42px" fill="#000" textLength="226" lengthAdjust="spacingAndGlyphs">Q (mC /cm<tspan baseline-shift="55%" style="font-size:28px">2</tspan>)</text>
<text transform="translate(33,993)" text-anchor="middle" style="font-family:'Liberation Sans',sans-serif;font-weight:bold;font-size:42px" fill="#000">E</text>
<line x1="129.7" y1="1386.7" x2="120.7" y2="1386.7" stroke="#000" stroke-width="3" stroke-linecap="butt"/>
<line x1="129.7" y1="1323.94" x2="120.7" y2="1323.94" stroke="#000" stroke-width="3" stroke-linecap="butt"/>
<line x1="129.7" y1="1261.18" x2="120.7" y2="1261.18" stroke="#000" stroke-width="3" stroke-linecap="butt"/>
<line x1="129.7" y1="1198.42" x2="120.7" y2="1198.42" stroke="#000" stroke-width="3" stroke-linecap="butt"/>
<line x1="129.7" y1="1135.67" x2="120.7" y2="1135.67" stroke="#000" stroke-width="3" stroke-linecap="butt"/>
<line x1="129.7" y1="1072.91" x2="120.7" y2="1072.91" stroke="#000" stroke-width="3" stroke-linecap="butt"/>
<line x1="129.7" y1="1010.15" x2="120.7" y2="1010.15" stroke="#000" stroke-width="3" stroke-linecap="butt"/>
<line x1="129.7" y1="1355.32" x2="124.7" y2="1355.32" stroke="#000" stroke-width="3" stroke-linecap="butt"/>
<line x1="129.7" y1="1292.56" x2="124.7" y2="1292.56" stroke="#000" stroke-width="3" stroke-linecap="butt"/>
<line x1="129.7" y1="1229.8" x2="124.7" y2="1229.8" stroke="#000" stroke-width="3" stroke-linecap="butt"/>
<line x1="129.7" y1="1167.04" x2="124.7" y2="1167.04" stroke="#000" stroke-width="3" stroke-linecap="butt"/>
<line x1="129.7" y1="1104.29" x2="124.7" y2="1104.29" stroke="#000" stroke-width="3" stroke-linecap="butt"/>
<line x1="129.7" y1="1041.53" x2="124.7" y2="1041.53" stroke="#000" stroke-width="3" stroke-linecap="butt"/>
<line x1="129.7" y1="1386.7" x2="129.7" y2="1395.7" stroke="#000" stroke-width="3" stroke-linecap="butt"/>
<line x1="223.9" y1="1386.7" x2="223.9" y2="1395.7" stroke="#000" stroke-width="3" stroke-linecap="butt"/>
<line x1="318.1" y1="1386.7" x2="318.1" y2="1395.7" stroke="#000" stroke-width="3" stroke-linecap="butt"/>
<line x1="412.3" y1="1386.7" x2="412.3" y2="1395.7" stroke="#000" stroke-width="3" stroke-linecap="butt"/>
<line x1="506.5" y1="1386.7" x2="506.5" y2="1395.7" stroke="#000" stroke-width="3" stroke-linecap="butt"/>
<line x1="600.7" y1="1386.7" x2="600.7" y2="1395.7" stroke="#000" stroke-width="3" stroke-linecap="butt"/>
<line x1="176.8" y1="1386.7" x2="176.8" y2="1391.7" stroke="#000" stroke-width="3" stroke-linecap="butt"/>
<line x1="271" y1="1386.7" x2="271" y2="1391.7" stroke="#000" stroke-width="3" stroke-linecap="butt"/>
<line x1="365.2" y1="1386.7" x2="365.2" y2="1391.7" stroke="#000" stroke-width="3" stroke-linecap="butt"/>
<line x1="459.4" y1="1386.7" x2="459.4" y2="1391.7" stroke="#000" stroke-width="3" stroke-linecap="butt"/>
<line x1="553.6" y1="1386.7" x2="553.6" y2="1391.7" stroke="#000" stroke-width="3" stroke-linecap="butt"/>
<line x1="647.8" y1="1386.7" x2="647.8" y2="1391.7" stroke="#000" stroke-width="3" stroke-linecap="butt"/>
<text transform="translate(114.5,1394.7)" text-anchor="end" style="font-family:'Liberation Serif',serif;font-weight:bold;font-size:23px" fill="#000">0</text>
<text transform="translate(114.5,1331.94)" text-anchor="end" style="font-family:'Liberation Serif',serif;font-weight:bold;font-size:23px" fill="#000">20</text>
<text transform="translate(114.5,1269.18)" text-anchor="end" style="font-family:'Liberation Serif',serif;font-weight:bold;font-size:23px" fill="#000">40</text>
<text transform="translate(114.5,1206.42)" text-anchor="end" style="font-family:'Liberation Serif',serif;font-weight:bold;font-size:23px" fill="#000">60</text>
<text transform="translate(114.5,1143.67)" text-anchor="end" style="font-family:'Liberation Serif',serif;font-weight:bold;font-size:23px" fill="#000">80</text>
<text transform="translate(114.5,1080.91)" text-anchor="end" style="font-family:'Liberation Serif',serif;font-weight:bold;font-size:23px" fill="#000">100</text>
<text transform="translate(114.5,1018.15)" text-anchor="end" style="font-family:'Liberation Serif',serif;font-weight:bold;font-size:23px" fill="#000">120</text>
<text transform="translate(129.7,1420)" text-anchor="middle" style="font-family:'Liberation Serif',serif;font-weight:bold;font-size:23px" fill="#000">0</text>
<text transform="translate(223.9,1420)" text-anchor="middle" style="font-family:'Liberation Serif',serif;font-weight:bold;font-size:23px" fill="#000">200</text>
<text transform="translate(318.1,1420)" text-anchor="middle" style="font-family:'Liberation Serif',serif;font-weight:bold;font-size:23px" fill="#000">400</text>
<text transform="translate(412.3,1420)" text-anchor="middle" style="font-family:'Liberation Serif',serif;font-weight:bold;font-size:23px" fill="#000">600</text>
<text transform="translate(506.5,1420)" text-anchor="middle" style="font-family:'Liberation Serif',serif;font-weight:bold;font-size:23px" fill="#000">800</text>
<text transform="translate(600.7,1420)" text-anchor="middle" style="font-family:'Liberation Serif',serif;font-weight:bold;font-size:23px" fill="#000">1000</text>
<g clip-path="url(#clipE)">
<polyline points="129.7,1072.91 153.25,1073.53 176.8,1080.44 200.35,1086.09 223.9,1092.36 247.45,1094.56 271,1095.81 294.55,1099.58 318.1,1102.4 341.65,1109.31 365.2,1118.72 388.75,1123.11 412.3,1123.11 435.85,1126.57 459.4,1132.53 482.95,1134.72 506.5,1134.72 530.05,1136.92 553.6,1140.37 577.15,1142.88 600.7,1146.33" fill="none" stroke="#0000ff" stroke-width="3" stroke-linejoin="round" stroke-linecap="round"/>
<circle cx="129.7" cy="1072.91" r="11" fill="url(#gB)"/>
<circle cx="153.25" cy="1073.53" r="11" fill="url(#gB)"/>
<circle cx="176.8" cy="1080.44" r="11" fill="url(#gB)"/>
<circle cx="200.35" cy="1086.09" r="11" fill="url(#gB)"/>
<circle cx="223.9" cy="1092.36" r="11" fill="url(#gB)"/>
<circle cx="247.45" cy="1094.56" r="11" fill="url(#gB)"/>
<circle cx="271" cy="1095.81" r="11" fill="url(#gB)"/>
<circle cx="294.55" cy="1099.58" r="11" fill="url(#gB)"/>
<circle cx="318.1" cy="1102.4" r="11" fill="url(#gB)"/>
<circle cx="341.65" cy="1109.31" r="11" fill="url(#gB)"/>
<circle cx="365.2" cy="1118.72" r="11" fill="url(#gB)"/>
<circle cx="388.75" cy="1123.11" r="11" fill="url(#gB)"/>
<circle cx="412.3" cy="1123.11" r="11" fill="url(#gB)"/>
<circle cx="435.85" cy="1126.57" r="11" fill="url(#gB)"/>
<circle cx="459.4" cy="1132.53" r="11" fill="url(#gB)"/>
<circle cx="482.95" cy="1134.72" r="11" fill="url(#gB)"/>
<circle cx="506.5" cy="1134.72" r="11" fill="url(#gB)"/>
<circle cx="530.05" cy="1136.92" r="11" fill="url(#gB)"/>
<circle cx="553.6" cy="1140.37" r="11" fill="url(#gB)"/>
<circle cx="577.15" cy="1142.88" r="11" fill="url(#gB)"/>
<circle cx="600.7" cy="1146.33" r="11" fill="url(#gB)"/>
</g>
<line x1="385" y1="1048.6" x2="434" y2="1048.6" stroke="#0000ff" stroke-width="3.6" stroke-linecap="butt"/>
<circle cx="409.3" cy="1048" r="11" fill="url(#gB)"/>
<text transform="translate(438.5,1054.5)" text-anchor="start" style="font-family:'Liberation Serif',serif;font-weight:bold;font-size:25px" fill="#000" textLength="180" lengthAdjust="spacingAndGlyphs">80 Sec Treatment</text>
<rect x="203.1" y="1158" width="205" height="152" fill="#fff" stroke="#444" stroke-width="1.6"/>
<line x1="203.1" y1="1303.5" x2="200.1" y2="1303.5" stroke="#333" stroke-width="1.2" stroke-linecap="butt"/>
<line x1="203.1" y1="1290.77" x2="201.1" y2="1290.77" stroke="#333" stroke-width="1.2" stroke-linecap="butt"/>
<line x1="203.1" y1="1278.04" x2="200.1" y2="1278.04" stroke="#333" stroke-width="1.2" stroke-linecap="butt"/>
<line x1="203.1" y1="1265.31" x2="201.1" y2="1265.31" stroke="#333" stroke-width="1.2" stroke-linecap="butt"/>
<line x1="203.1" y1="1252.58" x2="200.1" y2="1252.58" stroke="#333" stroke-width="1.2" stroke-linecap="butt"/>
<line x1="203.1" y1="1239.85" x2="201.1" y2="1239.85" stroke="#333" stroke-width="1.2" stroke-linecap="butt"/>
<line x1="203.1" y1="1227.12" x2="200.1" y2="1227.12" stroke="#333" stroke-width="1.2" stroke-linecap="butt"/>
<line x1="203.1" y1="1214.39" x2="201.1" y2="1214.39" stroke="#333" stroke-width="1.2" stroke-linecap="butt"/>
<line x1="203.1" y1="1201.66" x2="200.1" y2="1201.66" stroke="#333" stroke-width="1.2" stroke-linecap="butt"/>
<line x1="203.1" y1="1188.93" x2="201.1" y2="1188.93" stroke="#333" stroke-width="1.2" stroke-linecap="butt"/>
<line x1="203.1" y1="1176.2" x2="200.1" y2="1176.2" stroke="#333" stroke-width="1.2" stroke-linecap="butt"/>
<line x1="203.1" y1="1163.47" x2="201.1" y2="1163.47" stroke="#333" stroke-width="1.2" stroke-linecap="butt"/>
<text transform="translate(197.6,1306) scale(1.2,1)" text-anchor="end" style="font-family:'Liberation Serif',serif;font-weight:bold;font-size:8px" fill="#222">0.0</text>
<text transform="translate(197.6,1280.54) scale(1.2,1)" text-anchor="end" style="font-family:'Liberation Serif',serif;font-weight:bold;font-size:8px" fill="#222">0.2</text>
<text transform="translate(197.6,1255.08) scale(1.2,1)" text-anchor="end" style="font-family:'Liberation Serif',serif;font-weight:bold;font-size:8px" fill="#222">0.4</text>
<text transform="translate(197.6,1229.62) scale(1.2,1)" text-anchor="end" style="font-family:'Liberation Serif',serif;font-weight:bold;font-size:8px" fill="#222">0.6</text>
<text transform="translate(197.6,1204.16) scale(1.2,1)" text-anchor="end" style="font-family:'Liberation Serif',serif;font-weight:bold;font-size:8px" fill="#222">0.8</text>
<text transform="translate(197.6,1178.7) scale(1.2,1)" text-anchor="end" style="font-family:'Liberation Serif',serif;font-weight:bold;font-size:8px" fill="#222">1.0</text>
<line x1="203.1" y1="1310" x2="203.1" y2="1313" stroke="#333" stroke-width="1.2" stroke-linecap="butt"/>
<line x1="217.74" y1="1310" x2="217.74" y2="1312" stroke="#333" stroke-width="1.2" stroke-linecap="butt"/>
<line x1="232.39" y1="1310" x2="232.39" y2="1313" stroke="#333" stroke-width="1.2" stroke-linecap="butt"/>
<line x1="247.03" y1="1310" x2="247.03" y2="1312" stroke="#333" stroke-width="1.2" stroke-linecap="butt"/>
<line x1="261.67" y1="1310" x2="261.67" y2="1313" stroke="#333" stroke-width="1.2" stroke-linecap="butt"/>
<line x1="276.31" y1="1310" x2="276.31" y2="1312" stroke="#333" stroke-width="1.2" stroke-linecap="butt"/>
<line x1="290.96" y1="1310" x2="290.96" y2="1313" stroke="#333" stroke-width="1.2" stroke-linecap="butt"/>
<line x1="305.6" y1="1310" x2="305.6" y2="1312" stroke="#333" stroke-width="1.2" stroke-linecap="butt"/>
<line x1="320.24" y1="1310" x2="320.24" y2="1313" stroke="#333" stroke-width="1.2" stroke-linecap="butt"/>
<line x1="334.89" y1="1310" x2="334.89" y2="1312" stroke="#333" stroke-width="1.2" stroke-linecap="butt"/>
<line x1="349.53" y1="1310" x2="349.53" y2="1313" stroke="#333" stroke-width="1.2" stroke-linecap="butt"/>
<line x1="364.17" y1="1310" x2="364.17" y2="1312" stroke="#333" stroke-width="1.2" stroke-linecap="butt"/>
<line x1="378.81" y1="1310" x2="378.81" y2="1313" stroke="#333" stroke-width="1.2" stroke-linecap="butt"/>
<line x1="393.46" y1="1310" x2="393.46" y2="1312" stroke="#333" stroke-width="1.2" stroke-linecap="butt"/>
<line x1="408.1" y1="1310" x2="408.1" y2="1313" stroke="#333" stroke-width="1.2" stroke-linecap="butt"/>
<text transform="translate(203.1,1322) scale(1.1,1)" text-anchor="middle" style="font-family:'Liberation Serif',serif;font-weight:bold;font-size:8px" fill="#222">4035</text>
<text transform="translate(232.39,1322) scale(1.1,1)" text-anchor="middle" style="font-family:'Liberation Serif',serif;font-weight:bold;font-size:8px" fill="#222">4040</text>
<text transform="translate(261.67,1322) scale(1.1,1)" text-anchor="middle" style="font-family:'Liberation Serif',serif;font-weight:bold;font-size:8px" fill="#222">4045</text>
<text transform="translate(290.96,1322) scale(1.1,1)" text-anchor="middle" style="font-family:'Liberation Serif',serif;font-weight:bold;font-size:8px" fill="#222">4050</text>
<text transform="translate(320.24,1322) scale(1.1,1)" text-anchor="middle" style="font-family:'Liberation Serif',serif;font-weight:bold;font-size:8px" fill="#222">4055</text>
<text transform="translate(349.53,1322) scale(1.1,1)" text-anchor="middle" style="font-family:'Liberation Serif',serif;font-weight:bold;font-size:8px" fill="#222">4060</text>
<text transform="translate(378.81,1322) scale(1.1,1)" text-anchor="middle" style="font-family:'Liberation Serif',serif;font-weight:bold;font-size:8px" fill="#222">4065</text>
<text transform="translate(408.1,1322) scale(1.1,1)" text-anchor="middle" style="font-family:'Liberation Serif',serif;font-weight:bold;font-size:8px" fill="#222">4070</text>
<clipPath id="clipI"><rect x="203.1" y="1158" width="205" height="152"/></clipPath>
<path clip-path="url(#clipI)" d="M203.1 1250.03C203.22 1252.16 203.32 1257.88 203.8 1262.76C204.28 1267.64 205.1 1274.86 206 1279.31C206.9 1283.77 208.33 1285.47 209.2 1289.5C210.07 1293.53 210.87 1301.17 211.2 1303.5 M211.2 1303.5C211.35 1298.2 211.82 1283.34 212.1 1271.67C212.38 1260.01 212.52 1244.94 212.9 1233.49C213.28 1222.03 213.77 1210.57 214.4 1202.93C215.03 1195.3 215.82 1191.26 216.7 1187.66C217.58 1184.05 218.72 1183.2 219.7 1181.29C220.68 1179.38 222.12 1177.05 222.6 1176.2 M222.6 1176.2C222.78 1180.66 223.43 1192.96 223.7 1202.93C223.97 1212.9 223.93 1226.06 224.2 1236.03C224.47 1246 224.75 1255.55 225.3 1262.76C225.85 1269.98 226.6 1274.86 227.5 1279.31C228.4 1283.77 229.8 1285.47 230.7 1289.5C231.6 1293.53 232.53 1301.17 232.9 1303.5 M232.9 1303.5C233.05 1298.2 233.52 1283.34 233.8 1271.67C234.08 1260.01 234.22 1244.94 234.6 1233.49C234.98 1222.03 235.47 1210.57 236.1 1202.93C236.73 1195.3 237.52 1191.26 238.4 1187.66C239.28 1184.05 240.42 1183.2 241.4 1181.29C242.38 1179.38 243.82 1177.05 244.3 1176.2 M244.3 1176.2C244.48 1180.66 245.13 1192.96 245.4 1202.93C245.67 1212.9 245.63 1226.06 245.9 1236.03C246.17 1246 246.45 1255.55 247 1262.76C247.55 1269.98 248.3 1274.86 249.2 1279.31C250.1 1283.77 251.5 1285.47 252.4 1289.5C253.3 1293.53 254.23 1301.17 254.6 1303.5 M254.6 1303.5C254.75 1298.2 255.22 1283.34 255.5 1271.67C255.78 1260.01 255.92 1244.94 256.3 1233.49C256.68 1222.03 257.17 1210.57 257.8 1202.93C258.43 1195.3 259.22 1191.26 260.1 1187.66C260.98 1184.05 262.12 1183.2 263.1 1181.29C264.08 1179.38 265.52 1177.05 266 1176.2 M266 1176.2C266.18 1180.66 266.83 1192.96 267.1 1202.93C267.37 1212.9 267.33 1226.06 267.6 1236.03C267.87 1246 268.15 1255.55 268.7 1262.76C269.25 1269.98 270 1274.86 270.9 1279.31C271.8 1283.77 273.2 1285.47 274.1 1289.5C275 1293.53 275.93 1301.17 276.3 1303.5 M276.3 1303.5C276.45 1298.2 276.92 1283.34 277.2 1271.67C277.48 1260.01 277.62 1244.94 278 1233.49C278.38 1222.03 278.87 1210.57 279.5 1202.93C280.13 1195.3 280.92 1191.26 281.8 1187.66C282.68 1184.05 283.82 1183.2 284.8 1181.29C285.78 1179.38 287.22 1177.05 287.7 1176.2 M287.7 1176.2C287.88 1180.66 288.53 1192.96 288.8 1202.93C289.07 1212.9 289.03 1226.06 289.3 1236.03C289.57 1246 289.85 1255.55 290.4 1262.76C290.95 1269.98 291.7 1274.86 292.6 1279.31C293.5 1283.77 294.9 1285.47 295.8 1289.5C296.7 1293.53 297.63 1301.17 298 1303.5 M298 1303.5C298.15 1298.2 298.62 1283.34 298.9 1271.67C299.18 1260.01 299.32 1244.94 299.7 1233.49C300.08 1222.03 300.57 1210.57 301.2 1202.93C301.83 1195.3 302.62 1191.26 303.5 1187.66C304.38 1184.05 305.52 1183.2 306.5 1181.29C307.48 1179.38 308.92 1177.05 309.4 1176.2 M309.4 1176.2C309.58 1180.66 310.23 1192.96 310.5 1202.93C310.77 1212.9 310.73 1226.06 311 1236.03C311.27 1246 311.55 1255.55 312.1 1262.76C312.65 1269.98 313.4 1274.86 314.3 1279.31C315.2 1283.77 316.6 1285.47 317.5 1289.5C318.4 1293.53 319.33 1301.17 319.7 1303.5 M319.7 1303.5C319.85 1298.2 320.32 1283.34 320.6 1271.67C320.88 1260.01 321.02 1244.94 321.4 1233.49C321.78 1222.03 322.27 1210.57 322.9 1202.93C323.53 1195.3 324.32 1191.26 325.2 1187.66C326.08 1184.05 327.22 1183.2 328.2 1181.29C329.18 1179.38 330.62 1177.05 331.1 1176.2 M331.1 1176.2C331.28 1180.66 331.93 1192.96 332.2 1202.93C332.47 1212.9 332.43 1226.06 332.7 1236.03C332.97 1246 333.25 1255.55 333.8 1262.76C334.35 1269.98 335.1 1274.86 336 1279.31C336.9 1283.77 338.3 1285.47 339.2 1289.5C340.1 1293.53 341.03 1301.17 341.4 1303.5 M341.4 1303.5C341.55 1298.2 342.02 1283.34 342.3 1271.67C342.58 1260.01 342.72 1244.94 343.1 1233.49C343.48 1222.03 343.97 1210.57 344.6 1202.93C345.23 1195.3 346.02 1191.26 346.9 1187.66C347.78 1184.05 348.92 1183.2 349.9 1181.29C350.88 1179.38 352.32 1177.05 352.8 1176.2 M352.8 1176.2C352.98 1180.66 353.63 1192.96 353.9 1202.93C354.17 1212.9 354.13 1226.06 354.4 1236.03C354.67 1246 354.95 1255.55 355.5 1262.76C356.05 1269.98 356.8 1274.86 357.7 1279.31C358.6 1283.77 360 1285.47 360.9 1289.5C361.8 1293.53 362.73 1301.17 363.1 1303.5 M363.1 1303.5C363.25 1298.2 363.72 1283.34 364 1271.67C364.28 1260.01 364.42 1244.94 364.8 1233.49C365.18 1222.03 365.67 1210.57 366.3 1202.93C366.93 1195.3 367.72 1191.26 368.6 1187.66C369.48 1184.05 370.62 1183.2 371.6 1181.29C372.58 1179.38 374.02 1177.05 374.5 1176.2 M374.5 1176.2C374.68 1180.66 375.33 1192.96 375.6 1202.93C375.87 1212.9 375.83 1226.06 376.1 1236.03C376.37 1246 376.65 1255.55 377.2 1262.76C377.75 1269.98 378.5 1274.86 379.4 1279.31C380.3 1283.77 381.7 1285.47 382.6 1289.5C383.5 1293.53 384.43 1301.17 384.8 1303.5 M384.8 1303.5C384.95 1298.2 385.42 1283.34 385.7 1271.67C385.98 1260.01 386.12 1244.94 386.5 1233.49C386.88 1222.03 387.37 1210.57 388 1202.93C388.63 1195.3 389.42 1191.26 390.3 1187.66C391.18 1184.05 392.32 1183.2 393.3 1181.29C394.28 1179.38 395.72 1177.05 396.2 1176.2 M396.2 1176.2C396.38 1180.66 397.03 1192.96 397.3 1202.93C397.57 1212.9 397.53 1226.06 397.8 1236.03C398.07 1246 398.35 1255.55 398.9 1262.76C399.45 1269.98 400.2 1274.86 401.1 1279.31C402 1283.77 403.4 1285.47 404.3 1289.5C405.2 1293.53 406.13 1301.17 406.5 1303.5 M406.5 1303.5C406.65 1298.2 407.12 1283.34 407.4 1271.67C407.68 1260.01 407.82 1244.94 408.2 1233.49C408.58 1222.03 409.07 1210.57 409.7 1202.93C410.33 1195.3 411.12 1191.26 412 1187.66C412.88 1184.05 414.02 1183.2 415 1181.29C415.98 1179.38 417.42 1177.05 417.9 1176.2 M417.9 1176.2C418.08 1180.66 418.73 1192.96 419 1202.93C419.27 1212.9 419.23 1226.06 419.5 1236.03C419.77 1246 420.05 1255.55 420.6 1262.76C421.15 1269.98 421.9 1274.86 422.8 1279.31C423.7 1283.77 425.1 1285.47 426 1289.5C426.9 1293.53 427.83 1301.17 428.2 1303.5" fill="none" stroke="#ff2424" stroke-width="1.7" stroke-linejoin="round"/>
<line x1="342" y1="1168.2" x2="359.5" y2="1168.2" stroke="#ff4040" stroke-width="1.8" stroke-linecap="butt"/>
<text transform="translate(365,1171)" text-anchor="start" style="font-family:'Liberation Serif',serif;font-weight:bold;font-size:8px" fill="#222" textLength="34" lengthAdjust="spacingAndGlyphs">@ 3 mA</text>
<text transform="translate(306.3,1338.5)" text-anchor="middle" style="font-family:'Liberation Serif',serif;font-weight:bold;font-size:14.5px" fill="#111" textLength="55" lengthAdjust="spacingAndGlyphs">Time (s)</text>
<text transform="translate(177.5,1240.5) rotate(-90)" text-anchor="middle" style="font-family:'Liberation Serif',serif;font-weight:bold;font-size:13px" fill="#111" textLength="88" lengthAdjust="spacingAndGlyphs">Potential (V)</text>
<rect x="129.7" y="1004.5" width="518.1" height="382.2" fill="none" stroke="#000" stroke-width="3.8"/>
<text transform="translate(388,1464.5)" text-anchor="middle" style="font-family:'Liberation Serif',serif;font-weight:bold;font-size:40px" fill="#000" textLength="259" lengthAdjust="spacingAndGlyphs">Cycle Number</text>
<text transform="translate(51.3,1198.5) rotate(-90)" text-anchor="middle" style="font-family:'Liberation Serif',serif;font-weight:bold;font-size:43px" fill="#000" textLength="251" lengthAdjust="spacingAndGlyphs">Retention(%)</text>
<text transform="translate(678,993)" text-anchor="middle" style="font-family:'Liberation Sans',sans-serif;font-weight:bold;font-size:42px" fill="#000">F</text>
<line x1="787.4" y1="1366.6" x2="779.4" y2="1366.6" stroke="#000" stroke-width="3" stroke-linecap="butt"/>
<line x1="787.4" y1="1344.67" x2="783.4" y2="1344.67" stroke="#000" stroke-width="3" stroke-linecap="butt"/>
<line x1="787.4" y1="1331.84" x2="783.4" y2="1331.84" stroke="#000" stroke-width="3" stroke-linecap="butt"/>
<line x1="787.4" y1="1322.73" x2="783.4" y2="1322.73" stroke="#000" stroke-width="3" stroke-linecap="butt"/>
<line x1="787.4" y1="1315.67" x2="783.4" y2="1315.67" stroke="#000" stroke-width="3" stroke-linecap="butt"/>
<line x1="787.4" y1="1309.9" x2="783.4" y2="1309.9" stroke="#000" stroke-width="3" stroke-linecap="butt"/>
<line x1="787.4" y1="1305.03" x2="783.4" y2="1305.03" stroke="#000" stroke-width="3" stroke-linecap="butt"/>
<line x1="787.4" y1="1300.8" x2="783.4" y2="1300.8" stroke="#000" stroke-width="3" stroke-linecap="butt"/>
<line x1="787.4" y1="1297.07" x2="783.4" y2="1297.07" stroke="#000" stroke-width="3" stroke-linecap="butt"/>
<line x1="787.4" y1="1293.74" x2="779.4" y2="1293.74" stroke="#000" stroke-width="3" stroke-linecap="butt"/>
<line x1="787.4" y1="1271.81" x2="783.4" y2="1271.81" stroke="#000" stroke-width="3" stroke-linecap="butt"/>
<line x1="787.4" y1="1258.98" x2="783.4" y2="1258.98" stroke="#000" stroke-width="3" stroke-linecap="butt"/>
<line x1="787.4" y1="1249.87" x2="783.4" y2="1249.87" stroke="#000" stroke-width="3" stroke-linecap="butt"/>
<line x1="787.4" y1="1242.81" x2="783.4" y2="1242.81" stroke="#000" stroke-width="3" stroke-linecap="butt"/>
<line x1="787.4" y1="1237.04" x2="783.4" y2="1237.04" stroke="#000" stroke-width="3" stroke-linecap="butt"/>
<line x1="787.4" y1="1232.17" x2="783.4" y2="1232.17" stroke="#000" stroke-width="3" stroke-linecap="butt"/>
<line x1="787.4" y1="1227.94" x2="783.4" y2="1227.94" stroke="#000" stroke-width="3" stroke-linecap="butt"/>
<line x1="787.4" y1="1224.21" x2="783.4" y2="1224.21" stroke="#000" stroke-width="3" stroke-linecap="butt"/>
<line x1="787.4" y1="1220.88" x2="779.4" y2="1220.88" stroke="#000" stroke-width="3" stroke-linecap="butt"/>
<line x1="787.4" y1="1198.95" x2="783.4" y2="1198.95" stroke="#000" stroke-width="3" stroke-linecap="butt"/>
<line x1="787.4" y1="1186.12" x2="783.4" y2="1186.12" stroke="#000" stroke-width="3" stroke-linecap="butt"/>
<line x1="787.4" y1="1177.01" x2="783.4" y2="1177.01" stroke="#000" stroke-width="3" stroke-linecap="butt"/>
<line x1="787.4" y1="1169.95" x2="783.4" y2="1169.95" stroke="#000" stroke-width="3" stroke-linecap="butt"/>
<line x1="787.4" y1="1164.18" x2="783.4" y2="1164.18" stroke="#000" stroke-width="3" stroke-linecap="butt"/>
<line x1="787.4" y1="1159.31" x2="783.4" y2="1159.31" stroke="#000" stroke-width="3" stroke-linecap="butt"/>
<line x1="787.4" y1="1155.08" x2="783.4" y2="1155.08" stroke="#000" stroke-width="3" stroke-linecap="butt"/>
<line x1="787.4" y1="1151.35" x2="783.4" y2="1151.35" stroke="#000" stroke-width="3" stroke-linecap="butt"/>
<line x1="787.4" y1="1148.02" x2="779.4" y2="1148.02" stroke="#000" stroke-width="3" stroke-linecap="butt"/>
<line x1="787.4" y1="1126.09" x2="783.4" y2="1126.09" stroke="#000" stroke-width="3" stroke-linecap="butt"/>
<line x1="787.4" y1="1113.26" x2="783.4" y2="1113.26" stroke="#000" stroke-width="3" stroke-linecap="butt"/>
<line x1="787.4" y1="1104.15" x2="783.4" y2="1104.15" stroke="#000" stroke-width="3" stroke-linecap="butt"/>
<line x1="787.4" y1="1097.09" x2="783.4" y2="1097.09" stroke="#000" stroke-width="3" stroke-linecap="butt"/>
<line x1="787.4" y1="1091.32" x2="783.4" y2="1091.32" stroke="#000" stroke-width="3" stroke-linecap="butt"/>
<line x1="787.4" y1="1086.45" x2="783.4" y2="1086.45" stroke="#000" stroke-width="3" stroke-linecap="butt"/>
<line x1="787.4" y1="1082.22" x2="783.4" y2="1082.22" stroke="#000" stroke-width="3" stroke-linecap="butt"/>
<line x1="787.4" y1="1078.49" x2="783.4" y2="1078.49" stroke="#000" stroke-width="3" stroke-linecap="butt"/>
<line x1="787.4" y1="1075.16" x2="779.4" y2="1075.16" stroke="#000" stroke-width="3" stroke-linecap="butt"/>
<line x1="787.4" y1="1053.23" x2="783.4" y2="1053.23" stroke="#000" stroke-width="3" stroke-linecap="butt"/>
<line x1="787.4" y1="1040.4" x2="783.4" y2="1040.4" stroke="#000" stroke-width="3" stroke-linecap="butt"/>
<line x1="787.4" y1="1031.29" x2="783.4" y2="1031.29" stroke="#000" stroke-width="3" stroke-linecap="butt"/>
<line x1="787.4" y1="1024.23" x2="783.4" y2="1024.23" stroke="#000" stroke-width="3" stroke-linecap="butt"/>
<line x1="787.4" y1="1018.46" x2="783.4" y2="1018.46" stroke="#000" stroke-width="3" stroke-linecap="butt"/>
<line x1="787.4" y1="1013.59" x2="783.4" y2="1013.59" stroke="#000" stroke-width="3" stroke-linecap="butt"/>
<line x1="787.4" y1="1009.36" x2="783.4" y2="1009.36" stroke="#000" stroke-width="3" stroke-linecap="butt"/>
<line x1="787.4" y1="1005.63" x2="783.4" y2="1005.63" stroke="#000" stroke-width="3" stroke-linecap="butt"/>
<line x1="787.4" y1="1002.3" x2="779.4" y2="1002.3" stroke="#000" stroke-width="3" stroke-linecap="butt"/>
<line x1="787.4" y1="1366.6" x2="787.4" y2="1374.6" stroke="#000" stroke-width="3" stroke-linecap="butt"/>
<line x1="811.68" y1="1366.6" x2="811.68" y2="1370.6" stroke="#000" stroke-width="3" stroke-linecap="butt"/>
<line x1="825.88" y1="1366.6" x2="825.88" y2="1370.6" stroke="#000" stroke-width="3" stroke-linecap="butt"/>
<line x1="835.96" y1="1366.6" x2="835.96" y2="1370.6" stroke="#000" stroke-width="3" stroke-linecap="butt"/>
<line x1="843.77" y1="1366.6" x2="843.77" y2="1370.6" stroke="#000" stroke-width="3" stroke-linecap="butt"/>
<line x1="850.16" y1="1366.6" x2="850.16" y2="1370.6" stroke="#000" stroke-width="3" stroke-linecap="butt"/>
<line x1="855.56" y1="1366.6" x2="855.56" y2="1370.6" stroke="#000" stroke-width="3" stroke-linecap="butt"/>
<line x1="860.23" y1="1366.6" x2="860.23" y2="1370.6" stroke="#000" stroke-width="3" stroke-linecap="butt"/>
<line x1="864.36" y1="1366.6" x2="864.36" y2="1370.6" stroke="#000" stroke-width="3" stroke-linecap="butt"/>
<line x1="868.05" y1="1366.6" x2="868.05" y2="1374.6" stroke="#000" stroke-width="3" stroke-linecap="butt"/>
<line x1="892.33" y1="1366.6" x2="892.33" y2="1370.6" stroke="#000" stroke-width="3" stroke-linecap="butt"/>
<line x1="906.53" y1="1366.6" x2="906.53" y2="1370.6" stroke="#000" stroke-width="3" stroke-linecap="butt"/>
<line x1="916.61" y1="1366.6" x2="916.61" y2="1370.6" stroke="#000" stroke-width="3" stroke-linecap="butt"/>
<line x1="924.42" y1="1366.6" x2="924.42" y2="1370.6" stroke="#000" stroke-width="3" stroke-linecap="butt"/>
<line x1="930.81" y1="1366.6" x2="930.81" y2="1370.6" stroke="#000" stroke-width="3" stroke-linecap="butt"/>
<line x1="936.21" y1="1366.6" x2="936.21" y2="1370.6" stroke="#000" stroke-width="3" stroke-linecap="butt"/>
<line x1="940.88" y1="1366.6" x2="940.88" y2="1370.6" stroke="#000" stroke-width="3" stroke-linecap="butt"/>
<line x1="945.01" y1="1366.6" x2="945.01" y2="1370.6" stroke="#000" stroke-width="3" stroke-linecap="butt"/>
<line x1="948.7" y1="1366.6" x2="948.7" y2="1374.6" stroke="#000" stroke-width="3" stroke-linecap="butt"/>
<line x1="972.98" y1="1366.6" x2="972.98" y2="1370.6" stroke="#000" stroke-width="3" stroke-linecap="butt"/>
<line x1="987.18" y1="1366.6" x2="987.18" y2="1370.6" stroke="#000" stroke-width="3" stroke-linecap="butt"/>
<line x1="997.26" y1="1366.6" x2="997.26" y2="1370.6" stroke="#000" stroke-width="3" stroke-linecap="butt"/>
<line x1="1005.07" y1="1366.6" x2="1005.07" y2="1370.6" stroke="#000" stroke-width="3" stroke-linecap="butt"/>
<line x1="1011.46" y1="1366.6" x2="1011.46" y2="1370.6" stroke="#000" stroke-width="3" stroke-linecap="butt"/>
<line x1="1016.86" y1="1366.6" x2="1016.86" y2="1370.6" stroke="#000" stroke-width="3" stroke-linecap="butt"/>
<line x1="1021.53" y1="1366.6" x2="1021.53" y2="1370.6" stroke="#000" stroke-width="3" stroke-linecap="butt"/>
<line x1="1025.66" y1="1366.6" x2="1025.66" y2="1370.6" stroke="#000" stroke-width="3" stroke-linecap="butt"/>
<line x1="1029.35" y1="1366.6" x2="1029.35" y2="1374.6" stroke="#000" stroke-width="3" stroke-linecap="butt"/>
<line x1="1053.63" y1="1366.6" x2="1053.63" y2="1370.6" stroke="#000" stroke-width="3" stroke-linecap="butt"/>
<line x1="1067.83" y1="1366.6" x2="1067.83" y2="1370.6" stroke="#000" stroke-width="3" stroke-linecap="butt"/>
<line x1="1077.91" y1="1366.6" x2="1077.91" y2="1370.6" stroke="#000" stroke-width="3" stroke-linecap="butt"/>
<line x1="1085.72" y1="1366.6" x2="1085.72" y2="1370.6" stroke="#000" stroke-width="3" stroke-linecap="butt"/>
<line x1="1092.11" y1="1366.6" x2="1092.11" y2="1370.6" stroke="#000" stroke-width="3" stroke-linecap="butt"/>
<line x1="1097.51" y1="1366.6" x2="1097.51" y2="1370.6" stroke="#000" stroke-width="3" stroke-linecap="butt"/>
<line x1="1102.18" y1="1366.6" x2="1102.18" y2="1370.6" stroke="#000" stroke-width="3" stroke-linecap="butt"/>
<line x1="1106.31" y1="1366.6" x2="1106.31" y2="1370.6" stroke="#000" stroke-width="3" stroke-linecap="butt"/>
<line x1="1110" y1="1366.6" x2="1110" y2="1374.6" stroke="#000" stroke-width="3" stroke-linecap="butt"/>
<line x1="1134.28" y1="1366.6" x2="1134.28" y2="1370.6" stroke="#000" stroke-width="3" stroke-linecap="butt"/>
<line x1="1148.48" y1="1366.6" x2="1148.48" y2="1370.6" stroke="#000" stroke-width="3" stroke-linecap="butt"/>
<line x1="1158.56" y1="1366.6" x2="1158.56" y2="1370.6" stroke="#000" stroke-width="3" stroke-linecap="butt"/>
<line x1="1166.37" y1="1366.6" x2="1166.37" y2="1370.6" stroke="#000" stroke-width="3" stroke-linecap="butt"/>
<line x1="1172.76" y1="1366.6" x2="1172.76" y2="1370.6" stroke="#000" stroke-width="3" stroke-linecap="butt"/>
<line x1="1178.16" y1="1366.6" x2="1178.16" y2="1370.6" stroke="#000" stroke-width="3" stroke-linecap="butt"/>
<line x1="1182.83" y1="1366.6" x2="1182.83" y2="1370.6" stroke="#000" stroke-width="3" stroke-linecap="butt"/>
<line x1="1186.96" y1="1366.6" x2="1186.96" y2="1370.6" stroke="#000" stroke-width="3" stroke-linecap="butt"/>
<line x1="1190.65" y1="1366.6" x2="1190.65" y2="1374.6" stroke="#000" stroke-width="3" stroke-linecap="butt"/>
<line x1="1214.93" y1="1366.6" x2="1214.93" y2="1370.6" stroke="#000" stroke-width="3" stroke-linecap="butt"/>
<line x1="1229.13" y1="1366.6" x2="1229.13" y2="1370.6" stroke="#000" stroke-width="3" stroke-linecap="butt"/>
<line x1="1239.21" y1="1366.6" x2="1239.21" y2="1370.6" stroke="#000" stroke-width="3" stroke-linecap="butt"/>
<line x1="1247.02" y1="1366.6" x2="1247.02" y2="1370.6" stroke="#000" stroke-width="3" stroke-linecap="butt"/>
<line x1="1253.41" y1="1366.6" x2="1253.41" y2="1370.6" stroke="#000" stroke-width="3" stroke-linecap="butt"/>
<line x1="1258.81" y1="1366.6" x2="1258.81" y2="1370.6" stroke="#000" stroke-width="3" stroke-linecap="butt"/>
<line x1="1263.48" y1="1366.6" x2="1263.48" y2="1370.6" stroke="#000" stroke-width="3" stroke-linecap="butt"/>
<line x1="1267.61" y1="1366.6" x2="1267.61" y2="1370.6" stroke="#000" stroke-width="3" stroke-linecap="butt"/>
<line x1="1271.3" y1="1366.6" x2="1271.3" y2="1374.6" stroke="#000" stroke-width="3" stroke-linecap="butt"/>
<text transform="translate(767.5,1375.4) scale(1.02,1)" text-anchor="end" style="font-family:'Liberation Serif',serif;font-weight:bold;font-size:25px" fill="#000">10</text>
<text transform="translate(769,1363.8) scale(0.95,1)" text-anchor="start" style="font-family:'Liberation Serif',serif;font-weight:bold;font-size:12.5px" fill="#000">0</text>
<text transform="translate(767.5,1302.54) scale(1.02,1)" text-anchor="end" style="font-family:'Liberation Serif',serif;font-weight:bold;font-size:25px" fill="#000">10</text>
<text transform="translate(769,1290.94) scale(0.95,1)" text-anchor="start" style="font-family:'Liberation Serif',serif;font-weight:bold;font-size:12.5px" fill="#000">1</text>
<text transform="translate(767.5,1229.68) scale(1.02,1)" text-anchor="end" style="font-family:'Liberation Serif',serif;font-weight:bold;font-size:25px" fill="#000">10</text>
<text transform="translate(769,1218.08) scale(0.95,1)" text-anchor="start" style="font-family:'Liberation Serif',serif;font-weight:bold;font-size:12.5px" fill="#000">2</text>
<text transform="translate(767.5,1156.82) scale(1.02,1)" text-anchor="end" style="font-family:'Liberation Serif',serif;font-weight:bold;font-size:25px" fill="#000">10</text>
<text transform="translate(769,1145.22) scale(0.95,1)" text-anchor="start" style="font-family:'Liberation Serif',serif;font-weight:bold;font-size:12.5px" fill="#000">3</text>
<text transform="translate(767.5,1083.96) scale(1.02,1)" text-anchor="end" style="font-family:'Liberation Serif',serif;font-weight:bold;font-size:25px" fill="#000">10</text>
<text transform="translate(769,1072.36) scale(0.95,1)" text-anchor="start" style="font-family:'Liberation Serif',serif;font-weight:bold;font-size:12.5px" fill="#000">4</text>
<text transform="translate(767.5,1011.1) scale(1.02,1)" text-anchor="end" style="font-family:'Liberation Serif',serif;font-weight:bold;font-size:25px" fill="#000">10</text>
<text transform="translate(769,999.5) scale(0.95,1)" text-anchor="start" style="font-family:'Liberation Serif',serif;font-weight:bold;font-size:12.5px" fill="#000">5</text>
<text transform="translate(787.4,1400)" text-anchor="middle" style="font-family:'Liberation Serif',serif;font-weight:bold;font-size:23px" fill="#000">0.01</text>
<text transform="translate(868.05,1400)" text-anchor="middle" style="font-family:'Liberation Serif',serif;font-weight:bold;font-size:23px" fill="#000">0.1</text>
<text transform="translate(948.7,1400)" text-anchor="middle" style="font-family:'Liberation Serif',serif;font-weight:bold;font-size:23px" fill="#000">1</text>
<text transform="translate(1029.35,1400)" text-anchor="middle" style="font-family:'Liberation Serif',serif;font-weight:bold;font-size:23px" fill="#000">10</text>
<text transform="translate(1110,1400)" text-anchor="middle" style="font-family:'Liberation Serif',serif;font-weight:bold;font-size:23px" fill="#000">100</text>
<text transform="translate(1190.65,1400)" text-anchor="middle" style="font-family:'Liberation Serif',serif;font-weight:bold;font-size:23px" fill="#000">1000</text>
<text transform="translate(1271.3,1400)" text-anchor="middle" style="font-family:'Liberation Serif',serif;font-weight:bold;font-size:23px" fill="#000">10000</text>
<polyline points="971,1158.7 976.2,1163.9 992.3,1169 1011.8,1176.5 1028.4,1185.7 1043.9,1198.9 1069.5,1220.7" fill="none" stroke="#ff0000" stroke-width="3.2" stroke-linejoin="round" stroke-linecap="round"/>
<g stroke="#ff0000" stroke-width="4.9" fill="none" stroke-linejoin="round" stroke-linecap="round">
<circle cx="971" cy="1158.7" r="8"/>
<path d="M962.2 1149.9L979.8 1167.5M979.8 1149.9L962.2 1167.5"/>
</g>
<g stroke="#ff0000" stroke-width="4.9" fill="none" stroke-linejoin="round" stroke-linecap="round">
<circle cx="976.2" cy="1163.9" r="8"/>
<path d="M967.4 1155.1L985 1172.7M985 1155.1L967.4 1172.7"/>
</g>
<g stroke="#ff0000" stroke-width="4.9" fill="none" stroke-linejoin="round" stroke-linecap="round">
<circle cx="992.3" cy="1169" r="8"/>
<path d="M983.5 1160.2L1001.1 1177.8M1001.1 1160.2L983.5 1177.8"/>
</g>
<g stroke="#ff0000" stroke-width="4.9" fill="none" stroke-linejoin="round" stroke-linecap="round">
<circle cx="1011.8" cy="1176.5" r="8"/>
<path d="M1003 1167.7L1020.6 1185.3M1020.6 1167.7L1003 1185.3"/>
</g>
<g stroke="#ff0000" stroke-width="4.9" fill="none" stroke-linejoin="round" stroke-linecap="round">
<circle cx="1028.4" cy="1185.7" r="8"/>
<path d="M1019.6 1176.9L1037.2 1194.5M1037.2 1176.9L1019.6 1194.5"/>
</g>
<g stroke="#ff0000" stroke-width="4.9" fill="none" stroke-linejoin="round" stroke-linecap="round">
<circle cx="1043.9" cy="1198.9" r="8"/>
<path d="M1035.1 1190.1L1052.7 1207.7M1052.7 1190.1L1035.1 1207.7"/>
</g>
<g stroke="#ff0000" stroke-width="4.9" fill="none" stroke-linejoin="round" stroke-linecap="round">
<circle cx="1069.5" cy="1220.7" r="8"/>
<path d="M1060.7 1211.9L1078.3 1229.5M1078.3 1211.9L1060.7 1229.5"/>
</g>
<rect x="787.4" y="1002.3" width="483.9" height="364.3" fill="none" stroke="#000" stroke-width="3.9"/>
<text transform="translate(995.5,1460.5)" text-anchor="middle" style="font-family:'Liberation Serif',serif;font-weight:bold;font-size:40px" fill="#000" textLength="379" lengthAdjust="spacingAndGlyphs">Areal E<tspan baseline-shift="-25%" style="font-size:28px">D</tspan> (&#956;W. h/cm<tspan baseline-shift="54%" style="font-size:27px">2</tspan>)</text>
<text transform="translate(717,1203.5) rotate(-90)" text-anchor="middle" style="font-family:'Liberation Serif',serif;font-weight:bold;font-size:40px" fill="#000" textLength="337" lengthAdjust="spacingAndGlyphs">Areal P<tspan baseline-shift="-25%" style="font-size:28px">D</tspan> (&#956;W/cm<tspan baseline-shift="54%" style="font-size:27px">2</tspan>)</text>
</svg>
</body></html>
